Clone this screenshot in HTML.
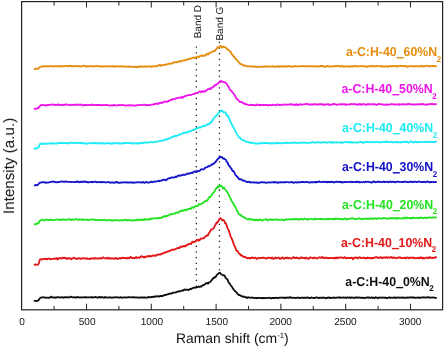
<!DOCTYPE html>
<html><head><meta charset="utf-8"><title>Raman spectra</title>
<style>html,body{margin:0;padding:0;background:#fff}body{width:444px;height:349px;overflow:hidden}</style></head>
<body>
<svg width="444" height="349" viewBox="0 0 444 349" style="display:block;-webkit-font-smoothing:antialiased" text-rendering="geometricPrecision">
<rect width="444" height="349" fill="#fff"/>
<defs><filter id="soft" x="-2%" y="-2%" width="104%" height="104%"><feGaussianBlur stdDeviation="0.32"/></filter></defs>
<g filter="url(#soft)">
<g stroke="#222" stroke-width="1.3" stroke-linecap="butt" fill="none">
<line x1="196.35" y1="46.45" x2="196.35" y2="288.5" stroke-dasharray="1.3 4.39"/>
<line x1="219.45" y1="41.65" x2="219.45" y2="272.5" stroke-dasharray="1.3 4.39"/>
</g>
<g fill="none" stroke-width="1.8" stroke-linejoin="round" stroke-linecap="round">
<path stroke="#E68C0C" d="M34.6 69.02 L35.1 69.04 L35.6 68.88 L36.1 68.71 L36.6 68.68 L37.1 68.63 L37.6 68.84 L38.1 68.99 L38.6 68.45 L39.1 67.66 L39.6 67.17 L40.1 66.99 L40.6 66.80 L41.1 66.58 L41.6 66.71 L42.1 66.76 L42.6 66.41 L43.1 66.33 L43.6 66.11 L44.1 66.08 L44.6 66.11 L45.1 66.32 L45.6 66.31 L46.1 66.54 L46.6 66.58 L47.1 66.32 L47.6 65.91 L48.1 66.19 L48.6 66.44 L49.1 66.37 L49.6 66.09 L50.1 66.14 L50.6 66.11 L51.1 66.23 L51.6 66.49 L52.1 66.27 L52.6 66.35 L53.1 66.48 L53.6 66.25 L54.1 66.25 L54.6 66.32 L55.1 66.22 L55.6 66.02 L56.1 66.28 L56.6 66.43 L57.1 66.06 L57.6 66.31 L58.1 66.25 L58.6 66.22 L59.1 66.63 L59.6 66.41 L60.1 65.97 L60.6 66.14 L61.1 66.27 L61.6 66.20 L62.1 66.27 L62.6 66.22 L63.1 66.37 L63.6 66.44 L64.1 66.09 L64.6 66.08 L65.1 66.03 L65.6 66.02 L66.1 65.81 L66.6 65.88 L67.1 66.08 L67.6 66.36 L68.1 66.32 L68.6 65.84 L69.1 65.88 L69.6 66.04 L70.1 65.68 L70.6 65.85 L71.1 66.14 L71.6 66.43 L72.1 66.33 L72.6 66.07 L73.1 66.00 L73.6 66.15 L74.1 66.41 L74.6 66.13 L75.1 66.06 L75.6 66.19 L76.1 66.13 L76.6 66.02 L77.1 65.90 L77.6 66.05 L78.1 66.15 L78.6 66.44 L79.1 66.40 L79.6 66.27 L80.1 66.31 L80.6 66.25 L81.1 66.41 L81.6 66.33 L82.1 66.25 L82.6 66.01 L83.1 66.09 L83.6 65.75 L84.1 65.65 L84.6 65.97 L85.1 66.05 L85.6 66.39 L86.1 66.70 L86.6 66.20 L87.1 66.09 L87.6 66.31 L88.1 66.39 L88.6 66.27 L89.1 66.29 L89.6 66.47 L90.1 66.39 L90.6 66.11 L91.1 66.22 L91.6 66.24 L92.1 66.11 L92.6 66.24 L93.1 66.23 L93.6 66.49 L94.1 66.45 L94.6 66.33 L95.1 66.21 L95.6 66.13 L96.1 65.82 L96.6 65.99 L97.1 66.20 L97.6 65.98 L98.1 66.26 L98.6 66.10 L99.1 66.34 L99.6 66.30 L100.1 66.49 L100.6 66.35 L101.1 66.15 L101.6 66.64 L102.1 66.78 L102.6 66.46 L103.1 66.31 L103.6 66.27 L104.1 66.25 L104.6 66.53 L105.1 66.36 L105.6 66.30 L106.1 66.19 L106.6 66.13 L107.1 66.18 L107.6 66.59 L108.1 66.55 L108.6 66.62 L109.1 66.45 L109.6 66.26 L110.1 66.27 L110.6 66.29 L111.1 66.37 L111.6 66.34 L112.1 66.25 L112.6 66.07 L113.1 66.30 L113.6 66.71 L114.1 66.36 L114.6 66.21 L115.1 66.56 L115.6 66.69 L116.1 66.24 L116.6 66.28 L117.1 66.20 L117.6 66.11 L118.1 66.52 L118.6 66.54 L119.1 66.45 L119.6 66.37 L120.1 66.51 L120.6 66.41 L121.1 66.36 L121.6 66.18 L122.1 66.27 L122.6 66.69 L123.1 66.54 L123.6 66.56 L124.1 66.52 L124.6 66.41 L125.1 66.45 L125.6 66.63 L126.1 66.53 L126.6 66.51 L127.1 66.65 L127.6 66.88 L128.1 66.84 L128.6 66.67 L129.1 66.40 L129.6 66.32 L130.1 66.78 L130.6 66.88 L131.1 66.70 L131.6 66.79 L132.1 66.91 L132.6 66.95 L133.1 66.89 L133.6 66.75 L134.1 66.90 L134.6 66.61 L135.1 66.85 L135.6 66.96 L136.1 67.10 L136.6 67.33 L137.1 67.14 L137.6 66.51 L138.1 66.40 L138.6 66.77 L139.1 66.63 L139.6 66.78 L140.1 66.86 L140.6 66.35 L141.1 66.24 L141.6 66.70 L142.1 66.80 L142.6 66.73 L143.1 66.70 L143.6 66.47 L144.1 66.35 L144.6 66.53 L145.1 66.39 L145.6 66.33 L146.1 66.69 L146.6 66.74 L147.1 66.68 L147.6 66.42 L148.1 66.35 L148.6 66.29 L149.1 66.35 L149.6 66.50 L150.1 66.43 L150.6 66.58 L151.1 66.76 L151.6 66.85 L152.1 66.38 L152.6 66.53 L153.1 66.46 L153.6 66.28 L154.1 66.02 L154.6 66.18 L155.1 66.41 L155.6 66.28 L156.1 66.18 L156.6 66.16 L157.1 66.30 L157.6 65.92 L158.1 65.39 L158.6 65.40 L159.1 65.05 L159.6 64.79 L160.1 65.35 L160.6 65.78 L161.1 65.45 L161.6 65.01 L162.1 65.03 L162.6 65.35 L163.1 65.18 L163.6 64.98 L164.1 64.85 L164.6 64.83 L165.1 64.90 L165.6 64.78 L166.1 64.48 L166.6 64.19 L167.1 64.27 L167.6 64.15 L168.1 64.19 L168.6 63.75 L169.1 63.74 L169.6 63.65 L170.1 63.48 L170.6 63.97 L171.1 63.89 L171.6 63.38 L172.1 63.38 L172.6 63.01 L173.1 62.35 L173.6 62.67 L174.1 62.71 L174.6 62.50 L175.1 62.16 L175.6 62.15 L176.1 62.23 L176.6 62.39 L177.1 62.13 L177.6 61.98 L178.1 62.04 L178.6 61.52 L179.1 61.13 L179.6 60.94 L180.1 61.54 L180.6 61.55 L181.1 61.35 L181.6 61.11 L182.1 60.83 L182.6 60.64 L183.1 60.41 L183.6 60.28 L184.1 60.37 L184.6 60.59 L185.1 60.29 L185.6 59.86 L186.1 59.53 L186.6 59.55 L187.1 59.96 L187.6 59.69 L188.1 59.31 L188.6 58.95 L189.1 58.67 L189.6 58.86 L190.1 58.99 L190.6 58.61 L191.1 58.41 L191.6 58.33 L192.1 58.14 L192.6 57.67 L193.1 57.72 L193.6 57.71 L194.1 57.88 L194.6 57.56 L195.1 57.77 L195.6 57.89 L196.1 57.28 L196.6 56.96 L197.1 57.03 L197.6 56.83 L198.1 56.54 L198.6 56.93 L199.1 57.21 L199.6 56.55 L200.1 56.12 L200.6 55.88 L201.1 55.93 L201.6 55.46 L202.1 55.46 L202.6 55.87 L203.1 55.50 L203.6 55.82 L204.1 55.89 L204.6 55.41 L205.1 55.37 L205.6 55.47 L206.1 54.71 L206.6 54.09 L207.1 53.77 L207.6 54.13 L208.1 54.52 L208.6 54.08 L209.1 53.15 L209.6 52.76 L210.1 52.72 L210.6 52.72 L211.1 52.41 L211.6 52.23 L212.1 51.95 L212.6 51.49 L213.1 51.26 L213.6 51.06 L214.1 50.77 L214.6 50.84 L215.1 50.94 L215.6 50.20 L216.1 49.23 L216.6 48.36 L217.1 48.24 L217.6 47.27 L218.1 47.10 L218.6 47.72 L219.1 47.55 L219.6 46.72 L220.1 45.97 L220.6 46.15 L221.1 46.36 L221.6 47.11 L222.1 47.74 L222.6 47.08 L223.1 46.48 L223.6 46.49 L224.1 47.05 L224.6 47.22 L225.1 47.19 L225.6 47.62 L226.1 47.82 L226.6 48.77 L227.1 49.34 L227.6 49.51 L228.1 49.48 L228.6 50.08 L229.1 50.49 L229.6 50.92 L230.1 51.44 L230.6 51.76 L231.1 52.54 L231.6 53.87 L232.1 54.53 L232.6 55.31 L233.1 55.98 L233.6 55.93 L234.1 56.64 L234.6 57.61 L235.1 58.24 L235.6 58.73 L236.1 59.55 L236.6 59.90 L237.1 60.03 L237.6 60.71 L238.1 61.72 L238.6 62.11 L239.1 62.25 L239.6 63.27 L240.1 63.83 L240.6 64.17 L241.1 64.14 L241.6 64.21 L242.1 64.54 L242.6 65.34 L243.1 65.34 L243.6 65.57 L244.1 65.45 L244.6 65.50 L245.1 65.42 L245.6 65.81 L246.1 66.18 L246.6 66.07 L247.1 66.45 L247.6 66.43 L248.1 66.17 L248.6 66.24 L249.1 66.35 L249.6 66.45 L250.1 66.39 L250.6 66.36 L251.1 66.44 L251.6 66.33 L252.1 66.34 L252.6 66.68 L253.1 66.82 L253.6 66.49 L254.1 66.62 L254.6 66.57 L255.1 66.60 L255.6 66.88 L256.1 66.86 L256.6 67.03 L257.1 66.77 L257.6 66.81 L258.1 66.72 L258.6 66.66 L259.1 66.86 L259.6 66.85 L260.1 66.91 L260.6 66.74 L261.1 66.54 L261.6 66.69 L262.1 66.85 L262.6 66.92 L263.1 66.65 L263.6 66.57 L264.1 66.44 L264.6 66.70 L265.1 66.44 L265.6 66.28 L266.1 66.69 L266.6 66.87 L267.1 66.41 L267.6 66.34 L268.1 66.41 L268.6 66.46 L269.1 66.67 L269.6 66.52 L270.1 66.54 L270.6 66.73 L271.1 66.61 L271.6 66.66 L272.1 66.42 L272.6 66.22 L273.1 66.33 L273.6 66.92 L274.1 66.75 L274.6 66.69 L275.1 66.68 L275.6 66.68 L276.1 66.80 L276.6 66.97 L277.1 66.43 L277.6 66.14 L278.1 66.19 L278.6 66.30 L279.1 66.73 L279.6 66.76 L280.1 66.34 L280.6 66.19 L281.1 66.50 L281.6 66.64 L282.1 66.09 L282.6 66.39 L283.1 66.43 L283.6 66.61 L284.1 66.36 L284.6 66.28 L285.1 66.11 L285.6 66.30 L286.1 66.80 L286.6 66.76 L287.1 66.41 L287.6 66.14 L288.1 65.99 L288.6 66.26 L289.1 66.44 L289.6 66.45 L290.1 66.36 L290.6 66.21 L291.1 66.36 L291.6 66.53 L292.1 66.86 L292.6 66.93 L293.1 66.49 L293.6 66.26 L294.1 66.32 L294.6 66.24 L295.1 66.22 L295.6 66.28 L296.1 66.23 L296.6 66.46 L297.1 66.45 L297.6 66.44 L298.1 66.33 L298.6 66.17 L299.1 66.13 L299.6 66.24 L300.1 66.28 L300.6 66.41 L301.1 66.31 L301.6 66.11 L302.1 66.21 L302.6 66.06 L303.1 66.14 L303.6 66.13 L304.1 65.93 L304.6 66.27 L305.1 66.41 L305.6 66.33 L306.1 66.25 L306.6 66.20 L307.1 66.12 L307.6 66.21 L308.1 66.25 L308.6 66.27 L309.1 66.14 L309.6 66.35 L310.1 66.41 L310.6 66.32 L311.1 66.30 L311.6 66.34 L312.1 66.08 L312.6 66.36 L313.1 66.47 L313.6 66.47 L314.1 66.42 L314.6 66.23 L315.1 66.30 L315.6 66.51 L316.1 66.51 L316.6 66.32 L317.1 66.08 L317.6 66.44 L318.1 66.72 L318.6 66.67 L319.1 66.36 L319.6 66.10 L320.1 66.43 L320.6 66.20 L321.1 65.81 L321.6 66.13 L322.1 65.95 L322.6 65.91 L323.1 66.20 L323.6 66.54 L324.1 66.37 L324.6 66.49 L325.1 66.85 L325.6 66.80 L326.1 66.41 L326.6 66.18 L327.1 65.99 L327.6 66.12 L328.1 66.40 L328.6 66.45 L329.1 66.45 L329.6 66.49 L330.1 66.22 L330.6 66.31 L331.1 66.52 L331.6 66.57 L332.1 66.62 L332.6 66.46 L333.1 66.30 L333.6 66.30 L334.1 66.00 L334.6 65.93 L335.1 66.31 L335.6 66.36 L336.1 66.25 L336.6 65.94 L337.1 66.06 L337.6 66.09 L338.1 65.91 L338.6 65.73 L339.1 66.13 L339.6 66.50 L340.1 66.40 L340.6 66.20 L341.1 66.31 L341.6 66.26 L342.1 65.75 L342.6 66.11 L343.1 66.45 L343.6 66.60 L344.1 66.79 L344.6 66.68 L345.1 66.46 L345.6 66.43 L346.1 66.44 L346.6 66.22 L347.1 66.30 L347.6 66.62 L348.1 66.76 L348.6 66.39 L349.1 66.28 L349.6 66.42 L350.1 66.58 L350.6 66.48 L351.1 66.52 L351.6 66.16 L352.1 66.15 L352.6 66.28 L353.1 66.51 L353.6 66.45 L354.1 65.96 L354.6 65.99 L355.1 66.23 L355.6 66.04 L356.1 65.97 L356.6 66.42 L357.1 66.49 L357.6 66.38 L358.1 66.27 L358.6 66.44 L359.1 66.37 L359.6 66.42 L360.1 66.08 L360.6 66.03 L361.1 66.19 L361.6 66.17 L362.1 66.37 L362.6 66.30 L363.1 66.08 L363.6 66.18 L364.1 66.25 L364.6 66.38 L365.1 66.15 L365.6 66.20 L366.1 66.65 L366.6 66.97 L367.1 66.85 L367.6 66.43 L368.1 66.41 L368.6 66.59 L369.1 66.26 L369.6 66.04 L370.1 66.24 L370.6 66.29 L371.1 65.98 L371.6 65.73 L372.1 65.86 L372.6 66.23 L373.1 66.12 L373.6 66.17 L374.1 66.32 L374.6 66.37 L375.1 66.25 L375.6 66.26 L376.1 66.06 L376.6 66.02 L377.1 66.07 L377.6 66.41 L378.1 66.26 L378.6 66.05 L379.1 66.09 L379.6 66.21 L380.1 66.26 L380.6 65.86 L381.1 65.87 L381.6 66.26 L382.1 66.82 L382.6 66.61 L383.1 66.33 L383.6 66.52 L384.1 66.71 L384.6 66.30 L385.1 66.22 L385.6 66.50 L386.1 66.47 L386.6 66.37 L387.1 66.30 L387.6 66.73 L388.1 66.78 L388.6 66.52 L389.1 66.27 L389.6 65.88 L390.1 66.20 L390.6 66.26 L391.1 66.35 L391.6 66.38 L392.1 66.07 L392.6 65.86 L393.1 66.12 L393.6 66.06 L394.1 66.05 L394.6 66.04 L395.1 65.93 L395.6 65.78 L396.1 66.33 L396.6 66.44 L397.1 66.62 L397.6 66.73 L398.1 66.23 L398.6 65.76 L399.1 65.80 L399.6 65.85 L400.1 66.02 L400.6 66.05 L401.1 65.81 L401.6 66.03 L402.1 65.93 L402.6 66.16 L403.1 66.19 L403.6 66.13 L404.1 66.13 L404.6 66.04 L405.1 65.92 L405.6 65.80 L406.1 66.22 L406.6 66.75 L407.1 66.87 L407.6 66.69 L408.1 66.41 L408.6 66.22 L409.1 66.47 L409.6 66.29 L410.1 66.17 L410.6 66.15 L411.1 66.17 L411.6 66.11 L412.1 66.08 L412.6 65.94 L413.1 66.21 L413.6 66.67 L414.1 66.34 L414.6 66.19 L415.1 66.35 L415.6 66.32 L416.1 66.00 L416.6 66.15 L417.1 66.41 L417.6 66.34 L418.1 66.36 L418.6 66.50 L419.1 66.17 L419.6 66.13 L420.1 66.20 L420.6 66.35 L421.1 65.84 L421.6 65.88 L422.1 66.09 L422.6 66.35 L423.1 66.48 L423.6 66.43 L424.1 66.02 L424.6 66.23 L425.1 66.14 L425.6 66.07 L426.1 66.20 L426.6 65.89 L427.1 65.66 L427.6 65.86 L428.1 65.80 L428.6 65.98 L429.1 66.26 L429.6 66.41 L430.1 66.55 L430.6 66.16 L431.1 65.80 L431.6 65.86 L432.1 65.86 L432.6 65.90 L433.1 66.16 L433.6 65.95 L434.1 65.78 L434.6 66.20 L435.1 66.25 L435.6 66.28 L436.1 66.25"/>
<path stroke="#EC14EA" d="M34.6 108.74 L35.1 108.74 L35.6 108.87 L36.1 108.75 L36.6 108.64 L37.1 108.44 L37.6 108.06 L38.1 108.10 L38.6 108.03 L39.1 107.26 L39.6 106.17 L40.1 105.86 L40.6 105.52 L41.1 105.04 L41.6 104.90 L42.1 105.15 L42.6 105.22 L43.1 105.14 L43.6 105.19 L44.1 105.16 L44.6 105.26 L45.1 105.11 L45.6 105.22 L46.1 105.59 L46.6 105.73 L47.1 105.10 L47.6 104.91 L48.1 104.97 L48.6 105.14 L49.1 104.87 L49.6 104.89 L50.1 104.95 L50.6 104.76 L51.1 104.72 L51.6 104.69 L52.1 104.40 L52.6 104.49 L53.1 104.78 L53.6 104.94 L54.1 104.78 L54.6 104.49 L55.1 104.74 L55.6 105.07 L56.1 105.05 L56.6 104.82 L57.1 104.70 L57.6 104.87 L58.1 104.66 L58.6 104.46 L59.1 104.65 L59.6 105.07 L60.1 105.02 L60.6 105.01 L61.1 104.81 L61.6 104.88 L62.1 104.68 L62.6 104.84 L63.1 105.32 L63.6 105.04 L64.1 104.66 L64.6 104.69 L65.1 104.86 L65.6 104.96 L66.1 104.56 L66.6 104.27 L67.1 104.52 L67.6 104.69 L68.1 104.82 L68.6 105.02 L69.1 104.92 L69.6 104.82 L70.1 104.59 L70.6 104.96 L71.1 105.28 L71.6 105.05 L72.1 104.83 L72.6 104.90 L73.1 105.05 L73.6 104.64 L74.1 104.67 L74.6 104.88 L75.1 104.90 L75.6 104.72 L76.1 104.76 L76.6 104.72 L77.1 104.75 L77.6 104.66 L78.1 104.51 L78.6 104.75 L79.1 104.89 L79.6 104.62 L80.1 104.71 L80.6 104.84 L81.1 104.63 L81.6 104.69 L82.1 104.68 L82.6 105.15 L83.1 105.55 L83.6 105.42 L84.1 104.99 L84.6 104.99 L85.1 104.93 L85.6 104.99 L86.1 105.11 L86.6 104.77 L87.1 105.00 L87.6 105.04 L88.1 105.19 L88.6 104.98 L89.1 104.78 L89.6 104.96 L90.1 105.08 L90.6 105.00 L91.1 104.98 L91.6 104.68 L92.1 104.49 L92.6 105.02 L93.1 105.16 L93.6 105.02 L94.1 105.04 L94.6 105.14 L95.1 104.88 L95.6 104.76 L96.1 104.96 L96.6 105.12 L97.1 104.85 L97.6 105.10 L98.1 104.86 L98.6 104.80 L99.1 105.19 L99.6 104.99 L100.1 104.70 L100.6 104.92 L101.1 105.29 L101.6 105.33 L102.1 105.07 L102.6 105.16 L103.1 105.19 L103.6 105.00 L104.1 105.10 L104.6 105.06 L105.1 104.93 L105.6 104.95 L106.1 105.08 L106.6 105.07 L107.1 104.96 L107.6 105.06 L108.1 105.35 L108.6 105.32 L109.1 105.43 L109.6 105.51 L110.1 105.53 L110.6 105.63 L111.1 105.20 L111.6 105.26 L112.1 105.30 L112.6 105.68 L113.1 105.55 L113.6 104.82 L114.1 104.89 L114.6 105.33 L115.1 105.48 L115.6 105.42 L116.1 105.29 L116.6 105.36 L117.1 105.40 L117.6 105.34 L118.1 105.29 L118.6 104.87 L119.1 105.15 L119.6 105.14 L120.1 105.37 L120.6 105.22 L121.1 105.08 L121.6 105.22 L122.1 105.04 L122.6 104.90 L123.1 104.87 L123.6 105.20 L124.1 105.46 L124.6 105.53 L125.1 105.41 L125.6 105.51 L126.1 105.37 L126.6 105.32 L127.1 105.49 L127.6 105.54 L128.1 105.28 L128.6 105.21 L129.1 105.25 L129.6 105.24 L130.1 105.19 L130.6 105.43 L131.1 105.32 L131.6 105.31 L132.1 105.18 L132.6 105.34 L133.1 105.38 L133.6 105.38 L134.1 105.72 L134.6 105.64 L135.1 105.77 L135.6 105.57 L136.1 105.18 L136.6 105.18 L137.1 105.35 L137.6 105.32 L138.1 105.26 L138.6 105.08 L139.1 104.83 L139.6 104.92 L140.1 104.78 L140.6 105.12 L141.1 105.06 L141.6 105.02 L142.1 105.15 L142.6 105.17 L143.1 104.81 L143.6 104.66 L144.1 104.71 L144.6 104.62 L145.1 104.96 L145.6 105.39 L146.1 105.10 L146.6 105.11 L147.1 104.89 L147.6 105.03 L148.1 104.99 L148.6 105.00 L149.1 105.19 L149.6 105.33 L150.1 105.01 L150.6 104.74 L151.1 104.55 L151.6 104.67 L152.1 104.61 L152.6 104.64 L153.1 104.58 L153.6 104.55 L154.1 103.90 L154.6 104.00 L155.1 104.20 L155.6 103.89 L156.1 103.64 L156.6 103.55 L157.1 103.35 L157.6 103.68 L158.1 104.12 L158.6 103.73 L159.1 103.04 L159.6 102.86 L160.1 102.99 L160.6 103.11 L161.1 102.71 L161.6 102.63 L162.1 102.90 L162.6 102.81 L163.1 102.35 L163.6 101.93 L164.1 101.71 L164.6 101.62 L165.1 101.42 L165.6 101.76 L166.1 101.62 L166.6 101.74 L167.1 101.96 L167.6 101.56 L168.1 100.95 L168.6 101.13 L169.1 101.05 L169.6 100.42 L170.1 100.12 L170.6 100.03 L171.1 99.82 L171.6 99.98 L172.1 99.20 L172.6 99.11 L173.1 99.28 L173.6 99.24 L174.1 99.20 L174.6 99.06 L175.1 98.91 L175.6 98.78 L176.1 98.07 L176.6 98.14 L177.1 98.08 L177.6 98.11 L178.1 97.97 L178.6 97.56 L179.1 97.53 L179.6 97.78 L180.1 97.56 L180.6 97.36 L181.1 97.92 L181.6 97.77 L182.1 96.78 L182.6 97.00 L183.1 97.50 L183.6 97.05 L184.1 96.56 L184.6 96.23 L185.1 96.00 L185.6 95.91 L186.1 95.84 L186.6 95.95 L187.1 95.61 L187.6 95.29 L188.1 95.05 L188.6 95.11 L189.1 94.92 L189.6 95.04 L190.1 95.28 L190.6 95.08 L191.1 94.92 L191.6 94.73 L192.1 94.47 L192.6 94.24 L193.1 94.14 L193.6 94.12 L194.1 93.78 L194.6 94.06 L195.1 93.69 L195.6 93.19 L196.1 93.03 L196.6 92.94 L197.1 92.94 L197.6 92.81 L198.1 92.96 L198.6 92.24 L199.1 91.58 L199.6 91.63 L200.1 91.45 L200.6 91.91 L201.1 92.29 L201.6 91.91 L202.1 91.13 L202.6 91.22 L203.1 91.80 L203.6 91.41 L204.1 91.10 L204.6 91.40 L205.1 91.69 L205.6 91.16 L206.1 90.49 L206.6 90.28 L207.1 90.06 L207.6 89.43 L208.1 89.06 L208.6 89.07 L209.1 88.74 L209.6 88.72 L210.1 88.90 L210.6 89.08 L211.1 88.03 L211.6 87.63 L212.1 87.49 L212.6 87.49 L213.1 87.30 L213.6 86.48 L214.1 85.76 L214.6 85.21 L215.1 85.26 L215.6 85.50 L216.1 85.00 L216.6 84.21 L217.1 83.96 L217.6 83.84 L218.1 83.52 L218.6 82.80 L219.1 82.21 L219.6 81.39 L220.1 81.56 L220.6 82.06 L221.1 81.01 L221.6 81.29 L222.1 81.74 L222.6 81.61 L223.1 81.61 L223.6 82.05 L224.1 82.40 L224.6 82.39 L225.1 82.18 L225.6 82.83 L226.1 83.14 L226.6 83.68 L227.1 84.62 L227.6 85.55 L228.1 86.24 L228.6 86.71 L229.1 87.88 L229.6 88.94 L230.1 89.75 L230.6 90.38 L231.1 90.55 L231.6 91.16 L232.1 91.94 L232.6 92.24 L233.1 93.16 L233.6 93.85 L234.1 94.44 L234.6 94.87 L235.1 95.81 L235.6 96.93 L236.1 97.96 L236.6 98.64 L237.1 98.98 L237.6 99.40 L238.1 99.88 L238.6 100.59 L239.1 101.05 L239.6 101.68 L240.1 102.20 L240.6 102.01 L241.1 101.82 L241.6 102.04 L242.1 102.21 L242.6 102.63 L243.1 103.35 L243.6 103.37 L244.1 103.25 L244.6 103.83 L245.1 104.18 L245.6 104.00 L246.1 103.98 L246.6 104.21 L247.1 104.51 L247.6 104.78 L248.1 105.01 L248.6 105.13 L249.1 105.19 L249.6 105.22 L250.1 104.94 L250.6 104.54 L251.1 104.74 L251.6 104.90 L252.1 104.90 L252.6 105.05 L253.1 104.84 L253.6 104.82 L254.1 105.24 L254.6 105.23 L255.1 105.13 L255.6 105.27 L256.1 105.31 L256.6 104.97 L257.1 104.44 L257.6 104.64 L258.1 104.78 L258.6 104.77 L259.1 105.06 L259.6 105.23 L260.1 104.90 L260.6 104.86 L261.1 105.32 L261.6 104.95 L262.1 104.71 L262.6 104.98 L263.1 105.04 L263.6 104.91 L264.1 105.06 L264.6 104.85 L265.1 104.74 L265.6 104.99 L266.1 105.09 L266.6 104.89 L267.1 104.96 L267.6 105.15 L268.1 105.49 L268.6 105.08 L269.1 105.16 L269.6 104.99 L270.1 104.93 L270.6 105.11 L271.1 105.23 L271.6 105.25 L272.1 105.00 L272.6 104.73 L273.1 104.74 L273.6 104.97 L274.1 105.11 L274.6 105.21 L275.1 105.10 L275.6 105.19 L276.1 105.23 L276.6 104.84 L277.1 104.40 L277.6 104.32 L278.1 104.50 L278.6 104.95 L279.1 104.78 L279.6 105.00 L280.1 105.09 L280.6 105.22 L281.1 105.06 L281.6 104.76 L282.1 104.67 L282.6 104.72 L283.1 104.70 L283.6 104.58 L284.1 104.75 L284.6 104.89 L285.1 104.43 L285.6 104.52 L286.1 104.48 L286.6 104.67 L287.1 104.82 L287.6 104.73 L288.1 104.66 L288.6 104.40 L289.1 104.68 L289.6 104.59 L290.1 104.69 L290.6 104.48 L291.1 103.97 L291.6 104.23 L292.1 104.67 L292.6 104.93 L293.1 104.74 L293.6 104.52 L294.1 104.36 L294.6 104.87 L295.1 105.03 L295.6 104.65 L296.1 104.36 L296.6 104.22 L297.1 104.78 L297.6 105.21 L298.1 104.95 L298.6 104.87 L299.1 104.64 L299.6 104.42 L300.1 104.63 L300.6 104.31 L301.1 104.38 L301.6 104.60 L302.1 104.73 L302.6 104.67 L303.1 104.55 L303.6 104.26 L304.1 104.16 L304.6 104.36 L305.1 104.24 L305.6 104.06 L306.1 104.08 L306.6 104.15 L307.1 103.95 L307.6 103.94 L308.1 104.04 L308.6 104.43 L309.1 104.72 L309.6 104.83 L310.1 104.24 L310.6 104.28 L311.1 104.60 L311.6 104.46 L312.1 104.50 L312.6 104.78 L313.1 104.43 L313.6 104.09 L314.1 104.12 L314.6 104.46 L315.1 104.45 L315.6 104.11 L316.1 104.18 L316.6 104.54 L317.1 104.57 L317.6 104.40 L318.1 104.58 L318.6 104.49 L319.1 104.08 L319.6 104.28 L320.1 104.47 L320.6 104.19 L321.1 103.92 L321.6 104.28 L322.1 104.69 L322.6 104.68 L323.1 104.27 L323.6 104.76 L324.1 104.45 L324.6 104.65 L325.1 104.84 L325.6 104.74 L326.1 104.45 L326.6 104.23 L327.1 104.43 L327.6 104.13 L328.1 104.03 L328.6 104.90 L329.1 104.91 L329.6 104.80 L330.1 104.46 L330.6 104.78 L331.1 104.98 L331.6 104.87 L332.1 104.44 L332.6 104.14 L333.1 104.13 L333.6 103.80 L334.1 103.89 L334.6 104.24 L335.1 104.19 L335.6 104.29 L336.1 104.51 L336.6 104.91 L337.1 104.82 L337.6 104.57 L338.1 104.60 L338.6 104.30 L339.1 104.34 L339.6 104.48 L340.1 104.17 L340.6 104.15 L341.1 104.10 L341.6 104.44 L342.1 104.70 L342.6 104.36 L343.1 104.32 L343.6 104.13 L344.1 103.99 L344.6 104.14 L345.1 104.78 L345.6 105.04 L346.1 104.61 L346.6 104.32 L347.1 104.46 L347.6 104.42 L348.1 104.55 L348.6 104.52 L349.1 104.51 L349.6 104.49 L350.1 104.27 L350.6 104.12 L351.1 103.94 L351.6 104.05 L352.1 104.02 L352.6 104.17 L353.1 104.16 L353.6 104.36 L354.1 104.37 L354.6 104.04 L355.1 104.02 L355.6 104.16 L356.1 104.58 L356.6 104.85 L357.1 104.65 L357.6 104.46 L358.1 104.55 L358.6 104.25 L359.1 104.53 L359.6 104.13 L360.1 103.90 L360.6 104.85 L361.1 104.82 L361.6 104.26 L362.1 104.30 L362.6 104.33 L363.1 104.26 L363.6 103.99 L364.1 104.13 L364.6 104.42 L365.1 104.52 L365.6 104.63 L366.1 104.62 L366.6 104.81 L367.1 104.38 L367.6 104.22 L368.1 103.86 L368.6 104.03 L369.1 104.48 L369.6 104.28 L370.1 104.39 L370.6 104.29 L371.1 104.09 L371.6 104.16 L372.1 104.17 L372.6 104.25 L373.1 104.52 L373.6 104.49 L374.1 104.20 L374.6 104.12 L375.1 104.33 L375.6 104.41 L376.1 104.74 L376.6 105.05 L377.1 104.71 L377.6 104.38 L378.1 104.23 L378.6 104.07 L379.1 104.00 L379.6 104.02 L380.1 104.14 L380.6 104.26 L381.1 104.43 L381.6 104.28 L382.1 104.17 L382.6 104.17 L383.1 104.63 L383.6 104.69 L384.1 104.81 L384.6 104.74 L385.1 104.69 L385.6 104.43 L386.1 104.66 L386.6 104.88 L387.1 104.34 L387.6 104.61 L388.1 104.81 L388.6 104.59 L389.1 104.61 L389.6 104.61 L390.1 104.30 L390.6 104.30 L391.1 104.11 L391.6 104.06 L392.1 104.12 L392.6 104.25 L393.1 104.37 L393.6 104.33 L394.1 104.18 L394.6 104.74 L395.1 104.77 L395.6 104.54 L396.1 104.28 L396.6 104.31 L397.1 104.46 L397.6 104.32 L398.1 104.03 L398.6 104.57 L399.1 104.88 L399.6 104.19 L400.1 104.43 L400.6 104.46 L401.1 104.42 L401.6 104.52 L402.1 104.16 L402.6 104.37 L403.1 104.63 L403.6 104.34 L404.1 104.21 L404.6 104.27 L405.1 104.33 L405.6 104.55 L406.1 104.29 L406.6 104.34 L407.1 104.14 L407.6 104.36 L408.1 104.14 L408.6 103.72 L409.1 104.03 L409.6 104.04 L410.1 104.24 L410.6 104.53 L411.1 104.09 L411.6 104.09 L412.1 104.56 L412.6 104.55 L413.1 104.68 L413.6 104.43 L414.1 104.13 L414.6 104.32 L415.1 104.64 L415.6 104.61 L416.1 104.38 L416.6 104.31 L417.1 104.24 L417.6 104.31 L418.1 104.69 L418.6 104.36 L419.1 104.02 L419.6 104.17 L420.1 104.48 L420.6 104.49 L421.1 104.27 L421.6 104.14 L422.1 104.13 L422.6 103.83 L423.1 103.95 L423.6 104.35 L424.1 104.28 L424.6 104.44 L425.1 104.65 L425.6 104.54 L426.1 104.51 L426.6 104.83 L427.1 104.58 L427.6 104.33 L428.1 104.47 L428.6 104.38 L429.1 104.15 L429.6 104.24 L430.1 104.12 L430.6 103.84 L431.1 104.09 L431.6 104.19 L432.1 104.06 L432.6 103.87 L433.1 104.10 L433.6 104.27 L434.1 104.24 L434.6 104.10 L435.1 104.27 L435.6 104.06 L436.1 104.16"/>
<path stroke="#1CEAF4" d="M34.6 148.74 L35.1 148.39 L35.6 148.35 L36.1 148.53 L36.6 148.21 L37.1 148.02 L37.6 148.03 L38.1 147.82 L38.6 146.96 L39.1 146.05 L39.6 144.86 L40.1 143.85 L40.6 143.64 L41.1 143.69 L41.6 143.80 L42.1 143.66 L42.6 143.79 L43.1 143.82 L43.6 143.63 L44.1 143.83 L44.6 144.11 L45.1 143.84 L45.6 143.55 L46.1 143.53 L46.6 143.45 L47.1 143.67 L47.6 143.74 L48.1 143.44 L48.6 143.53 L49.1 143.73 L49.6 143.50 L50.1 143.43 L50.6 143.21 L51.1 143.17 L51.6 143.43 L52.1 143.83 L52.6 143.44 L53.1 143.20 L53.6 143.20 L54.1 143.33 L54.6 143.48 L55.1 143.56 L55.6 143.78 L56.1 143.59 L56.6 143.63 L57.1 143.47 L57.6 143.30 L58.1 142.96 L58.6 143.09 L59.1 143.17 L59.6 142.99 L60.1 142.77 L60.6 143.19 L61.1 143.12 L61.6 143.02 L62.1 143.05 L62.6 143.11 L63.1 143.12 L63.6 142.82 L64.1 142.85 L64.6 143.12 L65.1 143.14 L65.6 143.00 L66.1 142.89 L66.6 142.88 L67.1 143.11 L67.6 143.27 L68.1 143.07 L68.6 143.41 L69.1 143.36 L69.6 143.12 L70.1 143.14 L70.6 142.72 L71.1 142.54 L71.6 142.68 L72.1 142.91 L72.6 142.99 L73.1 143.00 L73.6 142.96 L74.1 142.72 L74.6 142.99 L75.1 142.83 L75.6 142.88 L76.1 142.94 L76.6 142.79 L77.1 142.72 L77.6 142.86 L78.1 143.16 L78.6 143.36 L79.1 143.29 L79.6 142.98 L80.1 142.91 L80.6 143.00 L81.1 143.11 L81.6 142.92 L82.1 143.33 L82.6 143.18 L83.1 143.07 L83.6 143.35 L84.1 143.54 L84.6 143.49 L85.1 143.54 L85.6 143.47 L86.1 143.65 L86.6 143.64 L87.1 143.46 L87.6 143.61 L88.1 143.44 L88.6 143.26 L89.1 143.09 L89.6 143.23 L90.1 143.35 L90.6 143.12 L91.1 143.37 L91.6 143.44 L92.1 143.23 L92.6 142.84 L93.1 143.17 L93.6 143.38 L94.1 143.19 L94.6 143.09 L95.1 142.84 L95.6 143.23 L96.1 143.27 L96.6 143.31 L97.1 143.01 L97.6 143.30 L98.1 143.36 L98.6 143.39 L99.1 143.11 L99.6 143.26 L100.1 143.68 L100.6 143.23 L101.1 143.07 L101.6 143.12 L102.1 143.14 L102.6 143.61 L103.1 143.71 L103.6 143.15 L104.1 142.96 L104.6 143.51 L105.1 143.68 L105.6 143.64 L106.1 143.55 L106.6 143.18 L107.1 143.10 L107.6 142.89 L108.1 142.96 L108.6 143.36 L109.1 143.39 L109.6 143.75 L110.1 143.43 L110.6 143.22 L111.1 143.56 L111.6 143.78 L112.1 143.45 L112.6 143.10 L113.1 143.39 L113.6 143.59 L114.1 143.24 L114.6 143.17 L115.1 143.47 L115.6 143.32 L116.1 143.04 L116.6 143.08 L117.1 143.13 L117.6 143.32 L118.1 143.43 L118.6 143.61 L119.1 143.42 L119.6 143.04 L120.1 143.34 L120.6 143.56 L121.1 143.54 L121.6 143.52 L122.1 143.19 L122.6 143.12 L123.1 143.36 L123.6 142.98 L124.1 142.83 L124.6 143.31 L125.1 143.20 L125.6 143.08 L126.1 142.88 L126.6 142.83 L127.1 142.93 L127.6 143.17 L128.1 143.19 L128.6 142.88 L129.1 143.21 L129.6 143.02 L130.1 143.03 L130.6 143.36 L131.1 143.22 L131.6 143.09 L132.1 143.51 L132.6 143.24 L133.1 143.28 L133.6 143.42 L134.1 143.54 L134.6 143.32 L135.1 143.36 L135.6 143.21 L136.1 143.33 L136.6 143.07 L137.1 143.17 L137.6 143.55 L138.1 143.34 L138.6 143.31 L139.1 143.60 L139.6 143.25 L140.1 142.95 L140.6 143.03 L141.1 142.88 L141.6 143.22 L142.1 143.25 L142.6 142.84 L143.1 142.73 L143.6 142.87 L144.1 142.79 L144.6 142.65 L145.1 142.70 L145.6 142.33 L146.1 142.46 L146.6 142.56 L147.1 142.60 L147.6 142.58 L148.1 142.38 L148.6 142.56 L149.1 142.44 L149.6 142.18 L150.1 141.95 L150.6 141.99 L151.1 142.19 L151.6 142.02 L152.1 142.16 L152.6 142.39 L153.1 142.42 L153.6 142.33 L154.1 141.83 L154.6 141.61 L155.1 141.88 L155.6 141.86 L156.1 141.83 L156.6 141.65 L157.1 141.72 L157.6 141.64 L158.1 141.48 L158.6 141.33 L159.1 141.19 L159.6 141.05 L160.1 141.01 L160.6 140.97 L161.1 140.77 L161.6 140.93 L162.1 140.66 L162.6 140.58 L163.1 140.29 L163.6 140.22 L164.1 140.42 L164.6 139.84 L165.1 139.33 L165.6 139.26 L166.1 139.44 L166.6 139.73 L167.1 139.36 L167.6 139.05 L168.1 138.58 L168.6 138.60 L169.1 138.69 L169.6 138.61 L170.1 138.01 L170.6 137.91 L171.1 137.65 L171.6 137.19 L172.1 137.11 L172.6 136.77 L173.1 136.29 L173.6 136.65 L174.1 136.61 L174.6 136.09 L175.1 135.83 L175.6 136.19 L176.1 136.00 L176.6 135.95 L177.1 135.78 L177.6 135.25 L178.1 135.17 L178.6 134.86 L179.1 134.64 L179.6 134.49 L180.1 134.43 L180.6 134.48 L181.1 134.12 L181.6 133.77 L182.1 133.60 L182.6 133.47 L183.1 133.06 L183.6 132.92 L184.1 132.86 L184.6 132.63 L185.1 132.49 L185.6 132.46 L186.1 132.91 L186.6 132.71 L187.1 132.18 L187.6 131.99 L188.1 132.23 L188.6 131.70 L189.1 131.27 L189.6 131.17 L190.1 131.14 L190.6 131.14 L191.1 130.87 L191.6 130.88 L192.1 130.19 L192.6 130.02 L193.1 129.77 L193.6 130.05 L194.1 129.54 L194.6 129.32 L195.1 129.49 L195.6 129.27 L196.1 128.49 L196.6 128.20 L197.1 127.94 L197.6 128.10 L198.1 128.00 L198.6 127.70 L199.1 127.44 L199.6 127.31 L200.1 127.20 L200.6 127.50 L201.1 127.43 L201.6 126.49 L202.1 126.50 L202.6 126.52 L203.1 126.46 L203.6 126.01 L204.1 125.83 L204.6 125.63 L205.1 125.82 L205.6 125.58 L206.1 125.28 L206.6 125.13 L207.1 124.60 L207.6 124.09 L208.1 124.35 L208.6 124.16 L209.1 123.80 L209.6 123.79 L210.1 123.32 L210.6 122.13 L211.1 121.72 L211.6 122.00 L212.1 121.41 L212.6 120.00 L213.1 119.06 L213.6 118.63 L214.1 118.03 L214.6 117.29 L215.1 117.05 L215.6 116.20 L216.1 115.69 L216.6 115.63 L217.1 114.67 L217.6 114.10 L218.1 113.80 L218.6 113.17 L219.1 112.19 L219.6 111.56 L220.1 111.17 L220.6 111.63 L221.1 111.10 L221.6 110.34 L222.1 110.72 L222.6 111.29 L223.1 111.71 L223.6 112.47 L224.1 112.56 L224.6 112.20 L225.1 112.40 L225.6 112.64 L226.1 113.55 L226.6 114.63 L227.1 116.03 L227.6 115.98 L228.1 116.00 L228.6 117.41 L229.1 118.81 L229.6 119.56 L230.1 120.66 L230.6 121.96 L231.1 123.11 L231.6 123.86 L232.1 124.69 L232.6 125.98 L233.1 126.72 L233.6 127.50 L234.1 128.29 L234.6 129.51 L235.1 130.74 L235.6 131.32 L236.1 132.54 L236.6 133.68 L237.1 134.35 L237.6 135.10 L238.1 135.75 L238.6 136.91 L239.1 137.59 L239.6 137.73 L240.1 137.68 L240.6 138.22 L241.1 139.16 L241.6 139.72 L242.1 139.83 L242.6 140.10 L243.1 140.07 L243.6 140.32 L244.1 140.69 L244.6 140.90 L245.1 140.92 L245.6 141.57 L246.1 141.87 L246.6 141.53 L247.1 141.60 L247.6 142.04 L248.1 141.97 L248.6 141.88 L249.1 142.50 L249.6 142.63 L250.1 142.70 L250.6 143.14 L251.1 142.91 L251.6 142.70 L252.1 142.80 L252.6 142.69 L253.1 142.80 L253.6 143.05 L254.1 142.99 L254.6 143.14 L255.1 143.58 L255.6 143.59 L256.1 143.53 L256.6 143.48 L257.1 143.54 L257.6 143.65 L258.1 143.53 L258.6 143.63 L259.1 143.21 L259.6 143.08 L260.1 142.96 L260.6 143.16 L261.1 143.48 L261.6 143.59 L262.1 143.25 L262.6 143.21 L263.1 143.15 L263.6 143.01 L264.1 142.97 L264.6 143.07 L265.1 142.90 L265.6 143.16 L266.1 143.22 L266.6 143.03 L267.1 142.88 L267.6 143.00 L268.1 143.44 L268.6 143.18 L269.1 143.50 L269.6 143.42 L270.1 143.08 L270.6 142.99 L271.1 143.45 L271.6 143.56 L272.1 143.07 L272.6 143.10 L273.1 143.38 L273.6 143.44 L274.1 143.55 L274.6 143.19 L275.1 143.10 L275.6 143.03 L276.1 143.41 L276.6 142.92 L277.1 142.54 L277.6 142.87 L278.1 143.16 L278.6 143.43 L279.1 143.11 L279.6 143.05 L280.1 143.26 L280.6 143.39 L281.1 143.18 L281.6 143.25 L282.1 143.15 L282.6 142.95 L283.1 142.96 L283.6 142.90 L284.1 142.84 L284.6 143.03 L285.1 142.80 L285.6 143.14 L286.1 143.19 L286.6 142.89 L287.1 142.70 L287.6 142.81 L288.1 143.01 L288.6 143.07 L289.1 143.04 L289.6 143.04 L290.1 142.80 L290.6 142.72 L291.1 142.55 L291.6 142.87 L292.1 142.86 L292.6 142.80 L293.1 143.05 L293.6 142.81 L294.1 142.21 L294.6 142.46 L295.1 142.52 L295.6 143.05 L296.1 143.32 L296.6 142.81 L297.1 142.69 L297.6 142.70 L298.1 142.82 L298.6 142.97 L299.1 142.96 L299.6 142.70 L300.1 142.90 L300.6 142.63 L301.1 142.77 L301.6 143.01 L302.1 142.85 L302.6 142.48 L303.1 142.42 L303.6 142.52 L304.1 142.70 L304.6 142.81 L305.1 142.50 L305.6 142.71 L306.1 142.86 L306.6 142.84 L307.1 142.89 L307.6 143.03 L308.1 142.91 L308.6 142.89 L309.1 142.94 L309.6 142.91 L310.1 142.43 L310.6 142.73 L311.1 142.63 L311.6 142.46 L312.1 142.24 L312.6 142.10 L313.1 142.33 L313.6 142.45 L314.1 142.54 L314.6 142.40 L315.1 142.80 L315.6 142.72 L316.1 142.48 L316.6 142.34 L317.1 142.26 L317.6 142.22 L318.1 142.36 L318.6 142.50 L319.1 142.41 L319.6 142.20 L320.1 142.31 L320.6 142.33 L321.1 142.64 L321.6 142.99 L322.1 142.77 L322.6 142.38 L323.1 142.04 L323.6 141.97 L324.1 142.09 L324.6 142.48 L325.1 142.39 L325.6 142.41 L326.1 142.37 L326.6 142.56 L327.1 142.74 L327.6 142.41 L328.1 142.30 L328.6 142.34 L329.1 142.53 L329.6 142.23 L330.1 142.04 L330.6 141.98 L331.1 142.08 L331.6 142.64 L332.1 142.96 L332.6 142.48 L333.1 142.59 L333.6 142.48 L334.1 142.19 L334.6 142.27 L335.1 142.31 L335.6 142.39 L336.1 142.65 L336.6 142.17 L337.1 142.38 L337.6 142.46 L338.1 142.31 L338.6 142.45 L339.1 142.61 L339.6 142.52 L340.1 142.54 L340.6 142.42 L341.1 142.10 L341.6 142.72 L342.1 143.05 L342.6 142.82 L343.1 142.56 L343.6 142.12 L344.1 142.18 L344.6 142.13 L345.1 142.24 L345.6 142.46 L346.1 142.23 L346.6 142.12 L347.1 141.91 L347.6 142.17 L348.1 142.29 L348.6 142.13 L349.1 142.26 L349.6 142.59 L350.1 142.12 L350.6 141.94 L351.1 142.15 L351.6 142.66 L352.1 142.87 L352.6 142.48 L353.1 142.14 L353.6 142.23 L354.1 142.43 L354.6 142.28 L355.1 142.64 L355.6 142.70 L356.1 142.45 L356.6 142.48 L357.1 142.60 L357.6 142.59 L358.1 142.24 L358.6 142.42 L359.1 142.21 L359.6 142.07 L360.1 142.21 L360.6 142.14 L361.1 141.91 L361.6 141.76 L362.1 142.03 L362.6 142.63 L363.1 142.82 L363.6 142.60 L364.1 142.50 L364.6 142.20 L365.1 142.19 L365.6 142.20 L366.1 141.93 L366.6 141.93 L367.1 142.14 L367.6 142.07 L368.1 141.98 L368.6 142.19 L369.1 142.25 L369.6 142.40 L370.1 142.25 L370.6 142.14 L371.1 142.19 L371.6 142.11 L372.1 142.00 L372.6 142.10 L373.1 142.36 L373.6 142.47 L374.1 142.38 L374.6 141.87 L375.1 141.93 L375.6 142.06 L376.1 142.14 L376.6 142.04 L377.1 142.07 L377.6 142.30 L378.1 142.17 L378.6 142.01 L379.1 142.43 L379.6 142.42 L380.1 142.15 L380.6 142.23 L381.1 142.12 L381.6 142.32 L382.1 142.11 L382.6 141.92 L383.1 141.94 L383.6 141.95 L384.1 142.13 L384.6 142.18 L385.1 142.10 L385.6 141.74 L386.1 141.29 L386.6 141.73 L387.1 141.73 L387.6 142.11 L388.1 142.39 L388.6 142.22 L389.1 142.03 L389.6 142.03 L390.1 142.02 L390.6 141.93 L391.1 141.86 L391.6 141.94 L392.1 142.28 L392.6 142.24 L393.1 142.28 L393.6 142.11 L394.1 142.07 L394.6 142.09 L395.1 142.23 L395.6 142.31 L396.1 142.14 L396.6 141.89 L397.1 141.98 L397.6 142.36 L398.1 142.11 L398.6 142.09 L399.1 142.44 L399.6 142.45 L400.1 142.23 L400.6 142.18 L401.1 142.57 L401.6 142.36 L402.1 142.19 L402.6 141.95 L403.1 141.64 L403.6 141.69 L404.1 142.07 L404.6 142.15 L405.1 141.94 L405.6 141.67 L406.1 141.62 L406.6 141.76 L407.1 141.77 L407.6 142.21 L408.1 142.56 L408.6 142.80 L409.1 142.39 L409.6 141.91 L410.1 141.55 L410.6 141.17 L411.1 141.64 L411.6 142.02 L412.1 142.27 L412.6 142.27 L413.1 142.22 L413.6 142.16 L414.1 142.29 L414.6 142.31 L415.1 141.86 L415.6 141.74 L416.1 141.80 L416.6 142.37 L417.1 142.47 L417.6 142.19 L418.1 141.82 L418.6 141.95 L419.1 141.98 L419.6 142.00 L420.1 142.02 L420.6 142.08 L421.1 142.03 L421.6 142.19 L422.1 142.10 L422.6 141.95 L423.1 141.93 L423.6 141.96 L424.1 142.13 L424.6 142.03 L425.1 142.02 L425.6 141.83 L426.1 141.72 L426.6 142.02 L427.1 141.89 L427.6 142.11 L428.1 142.02 L428.6 141.60 L429.1 141.64 L429.6 141.76 L430.1 141.70 L430.6 141.74 L431.1 142.06 L431.6 142.03 L432.1 142.04 L432.6 141.96 L433.1 141.98 L433.6 141.86 L434.1 141.98 L434.6 142.13 L435.1 142.02 L435.6 141.82 L436.1 141.73"/>
<path stroke="#1212C8" d="M34.6 185.36 L35.1 185.34 L35.6 185.12 L36.1 184.96 L36.6 185.21 L37.1 185.37 L37.6 184.77 L38.1 184.52 L38.6 184.06 L39.1 183.12 L39.6 182.88 L40.1 182.61 L40.6 182.72 L41.1 182.44 L41.6 182.22 L42.1 182.30 L42.6 182.35 L43.1 182.24 L43.6 182.19 L44.1 182.01 L44.6 182.22 L45.1 182.59 L45.6 182.81 L46.1 182.58 L46.6 182.44 L47.1 182.58 L47.6 182.64 L48.1 182.71 L48.6 182.53 L49.1 182.24 L49.6 182.22 L50.1 182.22 L50.6 182.22 L51.1 182.12 L51.6 181.79 L52.1 181.52 L52.6 181.62 L53.1 181.57 L53.6 181.91 L54.1 181.91 L54.6 181.70 L55.1 182.09 L55.6 182.23 L56.1 182.17 L56.6 182.46 L57.1 182.38 L57.6 181.88 L58.1 182.09 L58.6 182.11 L59.1 182.09 L59.6 182.07 L60.1 181.75 L60.6 181.63 L61.1 181.59 L61.6 181.62 L62.1 181.67 L62.6 181.44 L63.1 181.54 L63.6 181.87 L64.1 181.87 L64.6 181.76 L65.1 181.37 L65.6 181.46 L66.1 181.63 L66.6 181.73 L67.1 181.74 L67.6 181.96 L68.1 181.86 L68.6 181.80 L69.1 181.86 L69.6 181.92 L70.1 181.83 L70.6 182.05 L71.1 182.00 L71.6 181.88 L72.1 181.87 L72.6 182.00 L73.1 182.14 L73.6 182.13 L74.1 182.04 L74.6 182.05 L75.1 182.01 L75.6 182.12 L76.1 181.78 L76.6 181.49 L77.1 182.00 L77.6 181.89 L78.1 181.60 L78.6 181.68 L79.1 181.82 L79.6 182.31 L80.1 182.03 L80.6 181.63 L81.1 181.87 L81.6 181.99 L82.1 182.22 L82.6 181.66 L83.1 181.36 L83.6 181.75 L84.1 181.83 L84.6 181.67 L85.1 181.48 L85.6 182.01 L86.1 182.21 L86.6 181.75 L87.1 182.04 L87.6 182.10 L88.1 182.48 L88.6 182.23 L89.1 182.06 L89.6 182.26 L90.1 182.15 L90.6 181.97 L91.1 182.09 L91.6 181.83 L92.1 181.75 L92.6 182.31 L93.1 182.06 L93.6 181.91 L94.1 181.97 L94.6 181.65 L95.1 181.62 L95.6 181.83 L96.1 181.93 L96.6 182.14 L97.1 182.30 L97.6 182.11 L98.1 182.22 L98.6 182.20 L99.1 181.95 L99.6 182.03 L100.1 182.03 L100.6 182.34 L101.1 182.33 L101.6 182.10 L102.1 181.89 L102.6 182.05 L103.1 182.08 L103.6 182.28 L104.1 182.17 L104.6 182.09 L105.1 182.41 L105.6 182.41 L106.1 182.24 L106.6 182.43 L107.1 182.25 L107.6 182.18 L108.1 182.22 L108.6 182.09 L109.1 182.13 L109.6 182.34 L110.1 182.73 L110.6 182.73 L111.1 182.49 L111.6 182.65 L112.1 182.47 L112.6 182.49 L113.1 182.59 L113.6 182.66 L114.1 182.93 L114.6 182.51 L115.1 182.23 L115.6 182.55 L116.1 182.38 L116.6 182.09 L117.1 181.81 L117.6 182.47 L118.1 182.73 L118.6 182.73 L119.1 182.82 L119.6 182.87 L120.1 182.62 L120.6 182.59 L121.1 182.33 L121.6 182.40 L122.1 182.69 L122.6 182.53 L123.1 182.24 L123.6 182.44 L124.1 182.41 L124.6 182.32 L125.1 182.49 L125.6 182.32 L126.1 182.04 L126.6 182.27 L127.1 182.69 L127.6 182.31 L128.1 182.48 L128.6 182.69 L129.1 182.59 L129.6 182.26 L130.1 182.35 L130.6 182.56 L131.1 182.64 L131.6 182.33 L132.1 182.27 L132.6 182.71 L133.1 182.83 L133.6 182.60 L134.1 182.41 L134.6 182.53 L135.1 182.59 L135.6 182.57 L136.1 182.27 L136.6 182.39 L137.1 182.35 L137.6 182.21 L138.1 182.41 L138.6 182.43 L139.1 182.37 L139.6 182.37 L140.1 182.13 L140.6 182.32 L141.1 182.51 L141.6 182.56 L142.1 182.54 L142.6 182.08 L143.1 181.96 L143.6 182.32 L144.1 182.61 L144.6 182.86 L145.1 182.54 L145.6 182.22 L146.1 182.34 L146.6 182.04 L147.1 182.06 L147.6 182.71 L148.1 182.51 L148.6 182.38 L149.1 182.43 L149.6 182.54 L150.1 182.32 L150.6 182.20 L151.1 181.70 L151.6 181.61 L152.1 182.14 L152.6 182.23 L153.1 181.94 L153.6 181.73 L154.1 181.57 L154.6 181.47 L155.1 181.76 L155.6 181.65 L156.1 181.46 L156.6 181.40 L157.1 181.42 L157.6 181.29 L158.1 181.08 L158.6 180.71 L159.1 180.99 L159.6 181.21 L160.1 180.67 L160.6 180.55 L161.1 180.73 L161.6 180.72 L162.1 180.39 L162.6 179.92 L163.1 180.01 L163.6 179.70 L164.1 179.65 L164.6 179.82 L165.1 179.70 L165.6 179.96 L166.1 180.29 L166.6 179.78 L167.1 179.32 L167.6 178.82 L168.1 178.58 L168.6 178.40 L169.1 178.31 L169.6 178.11 L170.1 178.06 L170.6 177.99 L171.1 177.66 L171.6 177.34 L172.1 177.33 L172.6 177.61 L173.1 177.59 L173.6 177.66 L174.1 177.49 L174.6 177.09 L175.1 176.91 L175.6 176.63 L176.1 177.18 L176.6 176.97 L177.1 176.30 L177.6 175.94 L178.1 175.93 L178.6 175.45 L179.1 175.55 L179.6 175.87 L180.1 175.66 L180.6 175.46 L181.1 175.50 L181.6 175.10 L182.1 175.09 L182.6 174.85 L183.1 174.69 L183.6 174.76 L184.1 174.64 L184.6 174.95 L185.1 174.66 L185.6 174.74 L186.1 174.17 L186.6 174.07 L187.1 173.60 L187.6 173.42 L188.1 173.75 L188.6 173.73 L189.1 173.34 L189.6 173.55 L190.1 173.18 L190.6 173.16 L191.1 173.21 L191.6 172.94 L192.1 172.47 L192.6 172.99 L193.1 172.78 L193.6 172.20 L194.1 171.72 L194.6 171.35 L195.1 171.42 L195.6 171.78 L196.1 171.47 L196.6 171.05 L197.1 171.20 L197.6 171.54 L198.1 171.00 L198.6 170.76 L199.1 171.07 L199.6 170.78 L200.1 170.33 L200.6 169.81 L201.1 169.31 L201.6 169.22 L202.1 169.31 L202.6 169.33 L203.1 169.37 L203.6 169.26 L204.1 168.97 L204.6 168.59 L205.1 167.86 L205.6 167.31 L206.1 167.44 L206.6 167.27 L207.1 167.12 L207.6 166.92 L208.1 166.40 L208.6 166.19 L209.1 166.29 L209.6 166.09 L210.1 165.66 L210.6 165.55 L211.1 164.98 L211.6 164.36 L212.1 164.47 L212.6 164.55 L213.1 163.67 L213.6 163.65 L214.1 163.56 L214.6 162.94 L215.1 162.05 L215.6 162.13 L216.1 161.20 L216.6 160.26 L217.1 159.75 L217.6 159.42 L218.1 158.72 L218.6 158.24 L219.1 158.07 L219.6 157.04 L220.1 156.63 L220.6 157.19 L221.1 157.47 L221.6 157.43 L222.1 157.10 L222.6 157.89 L223.1 158.45 L223.6 158.88 L224.1 158.48 L224.6 159.05 L225.1 159.35 L225.6 159.35 L226.1 160.30 L226.6 161.56 L227.1 161.89 L227.6 162.58 L228.1 163.97 L228.6 165.05 L229.1 165.69 L229.6 165.99 L230.1 166.93 L230.6 167.90 L231.1 168.16 L231.6 168.84 L232.1 170.14 L232.6 171.00 L233.1 170.86 L233.6 171.04 L234.1 172.03 L234.6 173.10 L235.1 174.17 L235.6 175.09 L236.1 175.57 L236.6 176.07 L237.1 176.74 L237.6 177.17 L238.1 177.76 L238.6 178.41 L239.1 179.41 L239.6 179.43 L240.1 179.14 L240.6 179.25 L241.1 179.50 L241.6 179.56 L242.1 179.89 L242.6 180.29 L243.1 180.75 L243.6 180.74 L244.1 180.69 L244.6 180.72 L245.1 180.96 L245.6 181.35 L246.1 181.63 L246.6 181.91 L247.1 181.85 L247.6 182.13 L248.1 182.14 L248.6 181.96 L249.1 181.61 L249.6 181.82 L250.1 182.39 L250.6 182.62 L251.1 182.48 L251.6 182.46 L252.1 182.27 L252.6 182.20 L253.1 182.28 L253.6 182.59 L254.1 182.55 L254.6 182.39 L255.1 182.41 L255.6 182.59 L256.1 182.53 L256.6 182.46 L257.1 182.82 L257.6 182.68 L258.1 182.63 L258.6 182.89 L259.1 182.82 L259.6 182.59 L260.1 182.53 L260.6 182.26 L261.1 182.12 L261.6 182.05 L262.1 182.46 L262.6 182.22 L263.1 182.44 L263.6 182.29 L264.1 182.20 L264.6 182.39 L265.1 182.57 L265.6 182.76 L266.1 182.93 L266.6 182.74 L267.1 182.64 L267.6 182.45 L268.1 182.59 L268.6 182.51 L269.1 182.36 L269.6 182.40 L270.1 182.44 L270.6 182.51 L271.1 182.51 L271.6 182.31 L272.1 182.29 L272.6 182.42 L273.1 182.07 L273.6 182.28 L274.1 182.51 L274.6 181.89 L275.1 182.11 L275.6 182.39 L276.1 182.28 L276.6 182.65 L277.1 182.12 L277.6 182.62 L278.1 182.89 L278.6 182.67 L279.1 182.42 L279.6 182.36 L280.1 182.25 L280.6 182.39 L281.1 182.15 L281.6 182.28 L282.1 182.46 L282.6 182.14 L283.1 182.19 L283.6 182.24 L284.1 182.13 L284.6 182.50 L285.1 182.36 L285.6 182.00 L286.1 182.13 L286.6 182.08 L287.1 182.10 L287.6 182.21 L288.1 182.21 L288.6 182.39 L289.1 182.26 L289.6 182.43 L290.1 182.39 L290.6 182.41 L291.1 182.17 L291.6 182.02 L292.1 182.01 L292.6 182.36 L293.1 182.64 L293.6 182.86 L294.1 182.68 L294.6 182.36 L295.1 182.23 L295.6 182.29 L296.1 182.35 L296.6 182.60 L297.1 182.46 L297.6 182.05 L298.1 182.10 L298.6 182.47 L299.1 182.35 L299.6 182.26 L300.1 182.41 L300.6 182.18 L301.1 182.07 L301.6 181.93 L302.1 181.80 L302.6 182.15 L303.1 181.95 L303.6 181.92 L304.1 182.03 L304.6 182.28 L305.1 182.22 L305.6 182.05 L306.1 181.80 L306.6 181.92 L307.1 181.87 L307.6 182.15 L308.1 182.26 L308.6 182.33 L309.1 182.64 L309.6 182.46 L310.1 182.33 L310.6 182.21 L311.1 182.19 L311.6 182.42 L312.1 182.36 L312.6 182.02 L313.1 182.31 L313.6 182.40 L314.1 182.42 L314.6 182.22 L315.1 181.81 L315.6 181.92 L316.1 182.46 L316.6 182.21 L317.1 181.86 L317.6 182.07 L318.1 181.93 L318.6 181.53 L319.1 181.37 L319.6 181.62 L320.1 182.05 L320.6 182.10 L321.1 182.07 L321.6 182.19 L322.1 182.10 L322.6 181.67 L323.1 181.82 L323.6 181.81 L324.1 181.73 L324.6 181.88 L325.1 182.00 L325.6 181.92 L326.1 181.72 L326.6 182.02 L327.1 182.41 L327.6 181.87 L328.1 181.66 L328.6 182.06 L329.1 182.25 L329.6 182.13 L330.1 181.93 L330.6 182.14 L331.1 181.88 L331.6 181.72 L332.1 181.84 L332.6 182.04 L333.1 182.25 L333.6 182.24 L334.1 182.16 L334.6 182.25 L335.1 182.20 L335.6 182.14 L336.1 181.69 L336.6 181.66 L337.1 181.99 L337.6 181.77 L338.1 181.86 L338.6 181.95 L339.1 181.89 L339.6 182.00 L340.1 182.11 L340.6 181.64 L341.1 182.20 L341.6 182.58 L342.1 182.19 L342.6 182.07 L343.1 182.30 L343.6 182.37 L344.1 181.89 L344.6 181.93 L345.1 182.01 L345.6 182.12 L346.1 182.13 L346.6 182.12 L347.1 181.96 L347.6 181.93 L348.1 181.81 L348.6 181.79 L349.1 181.90 L349.6 181.86 L350.1 181.84 L350.6 182.23 L351.1 181.97 L351.6 181.75 L352.1 182.06 L352.6 181.93 L353.1 182.03 L353.6 182.03 L354.1 182.04 L354.6 181.98 L355.1 181.86 L355.6 182.08 L356.1 182.25 L356.6 181.63 L357.1 181.85 L357.6 181.98 L358.1 181.66 L358.6 181.74 L359.1 182.30 L359.6 182.18 L360.1 182.41 L360.6 182.22 L361.1 182.04 L361.6 182.10 L362.1 182.20 L362.6 182.27 L363.1 182.13 L363.6 182.01 L364.1 182.08 L364.6 182.30 L365.1 182.14 L365.6 181.73 L366.1 181.74 L366.6 181.91 L367.1 181.79 L367.6 181.73 L368.1 181.67 L368.6 181.83 L369.1 182.06 L369.6 182.17 L370.1 182.14 L370.6 182.36 L371.1 182.28 L371.6 182.67 L372.1 182.39 L372.6 182.05 L373.1 181.63 L373.6 181.25 L374.1 181.68 L374.6 182.07 L375.1 182.23 L375.6 181.88 L376.1 182.19 L376.6 182.03 L377.1 181.85 L377.6 181.41 L378.1 181.71 L378.6 181.88 L379.1 182.02 L379.6 181.87 L380.1 181.71 L380.6 182.06 L381.1 182.15 L381.6 182.13 L382.1 182.22 L382.6 182.19 L383.1 181.85 L383.6 181.48 L384.1 181.58 L384.6 182.12 L385.1 182.13 L385.6 181.91 L386.1 181.79 L386.6 181.85 L387.1 181.85 L387.6 181.74 L388.1 181.85 L388.6 182.30 L389.1 182.02 L389.6 181.65 L390.1 181.48 L390.6 181.66 L391.1 182.02 L391.6 182.06 L392.1 181.87 L392.6 181.83 L393.1 181.71 L393.6 181.68 L394.1 182.08 L394.6 182.20 L395.1 182.36 L395.6 181.85 L396.1 181.83 L396.6 182.01 L397.1 181.75 L397.6 181.46 L398.1 181.54 L398.6 181.82 L399.1 181.91 L399.6 181.92 L400.1 182.12 L400.6 182.15 L401.1 181.98 L401.6 181.85 L402.1 181.82 L402.6 182.00 L403.1 182.08 L403.6 181.94 L404.1 181.91 L404.6 181.69 L405.1 181.43 L405.6 181.56 L406.1 181.95 L406.6 182.09 L407.1 182.21 L407.6 182.01 L408.1 182.11 L408.6 182.24 L409.1 182.09 L409.6 181.75 L410.1 181.75 L410.6 181.76 L411.1 181.65 L411.6 181.92 L412.1 182.04 L412.6 181.93 L413.1 182.19 L413.6 181.88 L414.1 181.73 L414.6 181.70 L415.1 181.67 L415.6 181.85 L416.1 181.97 L416.6 182.22 L417.1 182.10 L417.6 181.96 L418.1 181.70 L418.6 181.48 L419.1 181.63 L419.6 181.69 L420.1 181.95 L420.6 181.99 L421.1 182.22 L421.6 182.15 L422.1 182.06 L422.6 181.93 L423.1 181.91 L423.6 182.03 L424.1 182.00 L424.6 181.75 L425.1 182.05 L425.6 182.40 L426.1 181.95 L426.6 181.69 L427.1 181.53 L427.6 181.52 L428.1 181.96 L428.6 181.92 L429.1 182.00 L429.6 182.41 L430.1 182.42 L430.6 181.87 L431.1 182.01 L431.6 182.04 L432.1 181.97 L432.6 181.93 L433.1 181.95 L433.6 182.19 L434.1 182.07 L434.6 182.01 L435.1 182.16 L435.6 182.12 L436.1 181.97"/>
<path stroke="#22E322" d="M34.6 224.25 L35.1 224.54 L35.6 224.25 L36.1 223.87 L36.6 223.59 L37.1 223.51 L37.6 223.37 L38.1 223.51 L38.6 223.13 L39.1 221.69 L39.6 220.93 L40.1 220.53 L40.6 220.28 L41.1 220.10 L41.6 220.40 L42.1 220.00 L42.6 219.67 L43.1 219.75 L43.6 220.12 L44.1 220.49 L44.6 220.53 L45.1 220.15 L45.6 219.72 L46.1 219.70 L46.6 219.73 L47.1 219.75 L47.6 219.54 L48.1 219.93 L48.6 220.16 L49.1 220.03 L49.6 219.98 L50.1 219.60 L50.6 219.39 L51.1 219.71 L51.6 220.25 L52.1 220.22 L52.6 219.95 L53.1 220.11 L53.6 220.00 L54.1 220.25 L54.6 220.04 L55.1 219.79 L55.6 219.89 L56.1 219.55 L56.6 219.31 L57.1 219.29 L57.6 219.67 L58.1 219.73 L58.6 219.65 L59.1 219.71 L59.6 220.00 L60.1 219.63 L60.6 219.55 L61.1 220.06 L61.6 220.18 L62.1 219.71 L62.6 219.15 L63.1 219.37 L63.6 219.74 L64.1 219.82 L64.6 219.91 L65.1 219.44 L65.6 219.61 L66.1 219.62 L66.6 219.90 L67.1 219.79 L67.6 219.81 L68.1 219.39 L68.6 219.06 L69.1 219.12 L69.6 219.25 L70.1 219.38 L70.6 219.96 L71.1 220.10 L71.6 219.71 L72.1 219.35 L72.6 219.43 L73.1 219.55 L73.6 219.98 L74.1 219.89 L74.6 219.75 L75.1 219.39 L75.6 218.99 L76.1 219.15 L76.6 219.31 L77.1 219.66 L77.6 219.64 L78.1 219.42 L78.6 219.63 L79.1 219.97 L79.6 219.48 L80.1 219.33 L80.6 219.48 L81.1 219.45 L81.6 219.57 L82.1 219.97 L82.6 220.07 L83.1 219.39 L83.6 219.56 L84.1 219.73 L84.6 219.70 L85.1 219.66 L85.6 219.73 L86.1 219.95 L86.6 219.72 L87.1 219.69 L87.6 219.77 L88.1 219.79 L88.6 219.84 L89.1 220.04 L89.6 219.90 L90.1 219.84 L90.6 219.72 L91.1 219.46 L91.6 219.41 L92.1 219.48 L92.6 219.72 L93.1 219.57 L93.6 219.51 L94.1 219.86 L94.6 219.86 L95.1 219.59 L95.6 220.17 L96.1 220.03 L96.6 219.95 L97.1 220.18 L97.6 219.96 L98.1 219.95 L98.6 220.36 L99.1 219.82 L99.6 219.88 L100.1 220.06 L100.6 219.72 L101.1 219.87 L101.6 220.27 L102.1 220.57 L102.6 219.95 L103.1 219.95 L103.6 220.18 L104.1 219.98 L104.6 219.73 L105.1 220.03 L105.6 220.13 L106.1 220.27 L106.6 220.48 L107.1 220.47 L107.6 220.29 L108.1 220.09 L108.6 219.80 L109.1 219.97 L109.6 220.11 L110.1 220.02 L110.6 220.03 L111.1 220.04 L111.6 220.66 L112.1 220.82 L112.6 220.27 L113.1 220.20 L113.6 220.24 L114.1 220.52 L114.6 220.41 L115.1 220.22 L115.6 220.14 L116.1 220.12 L116.6 220.00 L117.1 220.23 L117.6 220.13 L118.1 220.31 L118.6 220.41 L119.1 220.54 L119.6 220.42 L120.1 220.43 L120.6 220.15 L121.1 220.31 L121.6 220.27 L122.1 220.30 L122.6 220.39 L123.1 220.35 L123.6 219.84 L124.1 220.05 L124.6 220.02 L125.1 220.30 L125.6 219.77 L126.1 219.69 L126.6 219.90 L127.1 220.47 L127.6 220.11 L128.1 220.16 L128.6 220.00 L129.1 219.73 L129.6 220.11 L130.1 220.43 L130.6 220.39 L131.1 220.50 L131.6 220.28 L132.1 220.21 L132.6 220.20 L133.1 220.49 L133.6 220.82 L134.1 220.51 L134.6 220.24 L135.1 219.97 L135.6 220.04 L136.1 220.37 L136.6 219.87 L137.1 219.74 L137.6 219.92 L138.1 220.09 L138.6 220.28 L139.1 219.54 L139.6 219.89 L140.1 220.03 L140.6 219.58 L141.1 219.61 L141.6 220.01 L142.1 220.17 L142.6 219.49 L143.1 219.28 L143.6 219.92 L144.1 220.10 L144.6 219.44 L145.1 219.05 L145.6 219.69 L146.1 219.66 L146.6 219.72 L147.1 219.45 L147.6 219.20 L148.1 219.28 L148.6 219.74 L149.1 219.53 L149.6 218.61 L150.1 218.81 L150.6 219.39 L151.1 218.91 L151.6 218.51 L152.1 218.71 L152.6 218.74 L153.1 218.63 L153.6 218.47 L154.1 218.39 L154.6 218.37 L155.1 218.39 L155.6 218.12 L156.1 218.09 L156.6 218.23 L157.1 218.47 L157.6 218.22 L158.1 217.98 L158.6 218.01 L159.1 218.01 L159.6 218.04 L160.1 217.98 L160.6 218.15 L161.1 217.92 L161.6 217.36 L162.1 217.14 L162.6 217.33 L163.1 217.18 L163.6 216.72 L164.1 216.11 L164.6 215.95 L165.1 216.45 L165.6 216.65 L166.1 216.35 L166.6 215.83 L167.1 216.00 L167.6 215.70 L168.1 215.67 L168.6 215.49 L169.1 214.99 L169.6 214.61 L170.1 214.14 L170.6 214.08 L171.1 213.98 L171.6 214.36 L172.1 214.39 L172.6 214.39 L173.1 214.03 L173.6 213.60 L174.1 213.55 L174.6 213.36 L175.1 213.40 L175.6 213.11 L176.1 212.61 L176.6 212.63 L177.1 212.55 L177.6 212.41 L178.1 212.69 L178.6 212.70 L179.1 211.97 L179.6 211.40 L180.1 210.86 L180.6 211.16 L181.1 210.95 L181.6 210.47 L182.1 210.97 L182.6 211.04 L183.1 210.53 L183.6 210.29 L184.1 210.18 L184.6 210.28 L185.1 209.70 L185.6 209.95 L186.1 210.48 L186.6 209.99 L187.1 209.69 L187.6 209.26 L188.1 208.81 L188.6 208.98 L189.1 208.93 L189.6 208.48 L190.1 208.73 L190.6 209.01 L191.1 208.57 L191.6 207.53 L192.1 207.18 L192.6 207.16 L193.1 207.79 L193.6 207.77 L194.1 207.37 L194.6 206.58 L195.1 206.24 L195.6 206.45 L196.1 206.28 L196.6 205.85 L197.1 205.94 L197.6 205.98 L198.1 205.51 L198.6 204.63 L199.1 204.08 L199.6 204.45 L200.1 204.54 L200.6 204.16 L201.1 203.76 L201.6 203.55 L202.1 203.68 L202.6 203.30 L203.1 202.84 L203.6 202.17 L204.1 201.95 L204.6 201.82 L205.1 201.09 L205.6 200.60 L206.1 200.77 L206.6 200.99 L207.1 200.53 L207.6 200.21 L208.1 199.16 L208.6 198.14 L209.1 197.17 L209.6 197.02 L210.1 197.20 L210.6 196.42 L211.1 195.80 L211.6 195.11 L212.1 194.15 L212.6 193.37 L213.1 192.93 L213.6 192.54 L214.1 191.87 L214.6 191.16 L215.1 190.23 L215.6 189.24 L216.1 188.69 L216.6 188.21 L217.1 187.97 L217.6 186.48 L218.1 186.81 L218.6 187.50 L219.1 186.03 L219.6 185.08 L220.1 185.62 L220.6 186.27 L221.1 186.02 L221.6 186.31 L222.1 186.42 L222.6 187.06 L223.1 188.67 L223.6 188.08 L224.1 187.76 L224.6 188.33 L225.1 189.27 L225.6 190.07 L226.1 190.84 L226.6 191.13 L227.1 191.47 L227.6 192.95 L228.1 193.86 L228.6 194.59 L229.1 195.25 L229.6 196.50 L230.1 197.71 L230.6 198.79 L231.1 199.49 L231.6 200.83 L232.1 201.75 L232.6 202.20 L233.1 203.09 L233.6 204.19 L234.1 205.31 L234.6 205.45 L235.1 206.59 L235.6 207.45 L236.1 208.76 L236.6 210.04 L237.1 210.61 L237.6 211.40 L238.1 212.23 L238.6 213.60 L239.1 214.25 L239.6 214.56 L240.1 214.40 L240.6 214.90 L241.1 215.82 L241.6 215.98 L242.1 216.21 L242.6 216.52 L243.1 216.61 L243.6 217.25 L244.1 217.54 L244.6 217.75 L245.1 217.83 L245.6 218.17 L246.1 218.31 L246.6 218.87 L247.1 219.24 L247.6 219.32 L248.1 219.35 L248.6 219.18 L249.1 218.71 L249.6 219.36 L250.1 219.47 L250.6 219.48 L251.1 219.35 L251.6 219.12 L252.1 219.39 L252.6 219.89 L253.1 220.05 L253.6 219.56 L254.1 219.54 L254.6 219.96 L255.1 219.83 L255.6 220.25 L256.1 219.90 L256.6 219.64 L257.1 220.13 L257.6 220.22 L258.1 219.71 L258.6 220.07 L259.1 220.00 L259.6 220.14 L260.1 219.69 L260.6 219.38 L261.1 219.87 L261.6 220.28 L262.1 220.60 L262.6 220.50 L263.1 220.11 L263.6 219.73 L264.1 219.59 L264.6 219.58 L265.1 219.50 L265.6 219.39 L266.1 219.07 L266.6 219.58 L267.1 220.00 L267.6 220.51 L268.1 220.14 L268.6 219.73 L269.1 219.74 L269.6 219.40 L270.1 219.29 L270.6 219.29 L271.1 219.99 L271.6 219.89 L272.1 219.43 L272.6 219.66 L273.1 219.99 L273.6 219.94 L274.1 219.75 L274.6 219.42 L275.1 219.42 L275.6 219.71 L276.1 219.83 L276.6 219.40 L277.1 219.36 L277.6 219.75 L278.1 219.57 L278.6 219.84 L279.1 219.85 L279.6 220.02 L280.1 220.20 L280.6 220.00 L281.1 219.76 L281.6 219.33 L282.1 219.35 L282.6 219.80 L283.1 220.14 L283.6 220.26 L284.1 220.31 L284.6 219.83 L285.1 219.69 L285.6 219.80 L286.1 219.59 L286.6 219.38 L287.1 219.28 L287.6 219.55 L288.1 219.31 L288.6 219.37 L289.1 219.21 L289.6 219.52 L290.1 219.33 L290.6 219.42 L291.1 219.03 L291.6 219.26 L292.1 219.61 L292.6 219.29 L293.1 219.29 L293.6 219.05 L294.1 218.74 L294.6 219.28 L295.1 219.41 L295.6 219.15 L296.1 219.33 L296.6 219.09 L297.1 218.99 L297.6 219.18 L298.1 219.34 L298.6 219.73 L299.1 219.16 L299.6 219.45 L300.1 219.45 L300.6 218.69 L301.1 218.69 L301.6 219.24 L302.1 219.23 L302.6 219.43 L303.1 219.58 L303.6 219.17 L304.1 218.69 L304.6 218.44 L305.1 218.97 L305.6 219.04 L306.1 219.26 L306.6 219.20 L307.1 219.03 L307.6 219.66 L308.1 219.74 L308.6 219.43 L309.1 218.92 L309.6 218.93 L310.1 218.97 L310.6 218.93 L311.1 218.88 L311.6 219.22 L312.1 219.31 L312.6 219.24 L313.1 219.18 L313.6 219.48 L314.1 219.08 L314.6 218.37 L315.1 218.72 L315.6 219.15 L316.1 219.36 L316.6 219.11 L317.1 218.97 L317.6 218.98 L318.1 219.20 L318.6 219.00 L319.1 218.84 L319.6 218.90 L320.1 219.13 L320.6 218.85 L321.1 218.64 L321.6 219.04 L322.1 218.98 L322.6 219.14 L323.1 219.31 L323.6 219.52 L324.1 219.40 L324.6 218.98 L325.1 218.84 L325.6 218.83 L326.1 219.42 L326.6 219.43 L327.1 219.42 L327.6 218.88 L328.1 218.58 L328.6 219.26 L329.1 219.19 L329.6 219.06 L330.1 219.09 L330.6 219.23 L331.1 219.05 L331.6 218.71 L332.1 219.09 L332.6 218.89 L333.1 218.96 L333.6 219.48 L334.1 219.34 L334.6 218.79 L335.1 218.44 L335.6 218.88 L336.1 219.10 L336.6 218.86 L337.1 218.52 L337.6 218.50 L338.1 218.54 L338.6 218.95 L339.1 219.26 L339.6 219.20 L340.1 218.83 L340.6 218.96 L341.1 219.03 L341.6 218.80 L342.1 219.00 L342.6 219.47 L343.1 219.21 L343.6 219.10 L344.1 218.84 L344.6 218.69 L345.1 218.40 L345.6 218.81 L346.1 219.37 L346.6 219.63 L347.1 219.42 L347.6 219.14 L348.1 218.86 L348.6 218.66 L349.1 218.78 L349.6 218.90 L350.1 218.74 L350.6 218.90 L351.1 218.46 L351.6 218.14 L352.1 218.21 L352.6 218.12 L353.1 218.37 L353.6 218.95 L354.1 218.84 L354.6 218.92 L355.1 219.21 L355.6 219.16 L356.1 218.85 L356.6 219.10 L357.1 218.97 L357.6 218.82 L358.1 218.73 L358.6 218.31 L359.1 218.37 L359.6 218.67 L360.1 218.84 L360.6 218.65 L361.1 218.72 L361.6 219.08 L362.1 219.23 L362.6 219.14 L363.1 219.06 L363.6 218.65 L364.1 218.58 L364.6 218.69 L365.1 218.56 L365.6 218.64 L366.1 219.03 L366.6 218.65 L367.1 218.40 L367.6 218.84 L368.1 219.17 L368.6 218.92 L369.1 218.91 L369.6 218.55 L370.1 218.36 L370.6 218.35 L371.1 218.65 L371.6 218.96 L372.1 218.58 L372.6 218.82 L373.1 218.41 L373.6 218.48 L374.1 218.81 L374.6 218.82 L375.1 218.52 L375.6 218.14 L376.1 218.38 L376.6 218.51 L377.1 219.10 L377.6 218.70 L378.1 218.43 L378.6 218.15 L379.1 218.13 L379.6 218.17 L380.1 218.60 L380.6 218.54 L381.1 218.53 L381.6 218.27 L382.1 218.36 L382.6 218.66 L383.1 218.12 L383.6 217.88 L384.1 218.26 L384.6 218.10 L385.1 218.26 L385.6 218.53 L386.1 218.33 L386.6 218.49 L387.1 218.41 L387.6 218.84 L388.1 218.82 L388.6 218.33 L389.1 218.17 L389.6 218.11 L390.1 218.42 L390.6 218.53 L391.1 218.11 L391.6 218.31 L392.1 217.95 L392.6 217.78 L393.1 217.92 L393.6 218.71 L394.1 218.51 L394.6 218.28 L395.1 218.20 L395.6 218.30 L396.1 217.77 L396.6 218.26 L397.1 218.81 L397.6 218.33 L398.1 218.25 L398.6 218.33 L399.1 218.05 L399.6 218.22 L400.1 218.48 L400.6 218.36 L401.1 218.26 L401.6 218.14 L402.1 218.22 L402.6 218.33 L403.1 218.62 L403.6 218.45 L404.1 217.90 L404.6 217.49 L405.1 218.16 L405.6 218.30 L406.1 217.73 L406.6 217.35 L407.1 217.67 L407.6 218.13 L408.1 217.82 L408.6 217.86 L409.1 218.18 L409.6 218.40 L410.1 218.14 L410.6 217.95 L411.1 218.01 L411.6 218.51 L412.1 218.44 L412.6 217.94 L413.1 217.52 L413.6 217.69 L414.1 217.99 L414.6 217.90 L415.1 218.17 L415.6 218.16 L416.1 218.12 L416.6 218.19 L417.1 218.04 L417.6 217.69 L418.1 217.96 L418.6 218.41 L419.1 217.73 L419.6 217.74 L420.1 218.11 L420.6 217.85 L421.1 217.50 L421.6 217.46 L422.1 217.96 L422.6 218.30 L423.1 218.31 L423.6 218.06 L424.1 218.01 L424.6 217.62 L425.1 217.68 L425.6 217.63 L426.1 217.83 L426.6 218.09 L427.1 218.03 L427.6 217.69 L428.1 217.96 L428.6 217.62 L429.1 217.38 L429.6 217.44 L430.1 217.28 L430.6 217.59 L431.1 217.75 L431.6 217.70 L432.1 217.77 L432.6 217.63 L433.1 217.49 L433.6 217.25 L434.1 217.44 L434.6 217.35 L435.1 217.41 L435.6 217.56 L436.1 217.65"/>
<path stroke="#E31616" d="M34.6 264.80 L35.1 264.37 L35.6 264.50 L36.1 264.60 L36.6 264.54 L37.1 264.67 L37.6 264.73 L38.1 264.40 L38.6 263.94 L39.1 262.45 L39.6 260.39 L40.1 259.24 L40.6 259.39 L41.1 259.36 L41.6 259.21 L42.1 259.17 L42.6 259.33 L43.1 259.26 L43.6 259.22 L44.1 259.12 L44.6 258.77 L45.1 258.65 L45.6 259.06 L46.1 259.11 L46.6 258.84 L47.1 258.98 L47.6 259.47 L48.1 258.81 L48.6 258.69 L49.1 258.72 L49.6 258.43 L50.1 258.84 L50.6 259.40 L51.1 259.25 L51.6 259.03 L52.1 258.91 L52.6 258.82 L53.1 258.89 L53.6 258.57 L54.1 258.40 L54.6 258.61 L55.1 258.84 L55.6 258.76 L56.1 258.50 L56.6 257.99 L57.1 258.84 L57.6 259.44 L58.1 259.04 L58.6 258.32 L59.1 258.07 L59.6 258.23 L60.1 258.11 L60.6 258.38 L61.1 258.31 L61.6 258.68 L62.1 258.60 L62.6 257.78 L63.1 258.05 L63.6 257.89 L64.1 257.63 L64.6 257.85 L65.1 258.19 L65.6 258.36 L66.1 257.94 L66.6 258.60 L67.1 259.03 L67.6 258.67 L68.1 258.44 L68.6 258.13 L69.1 257.88 L69.6 258.29 L70.1 258.47 L70.6 258.76 L71.1 259.20 L71.6 258.77 L72.1 258.60 L72.6 258.63 L73.1 257.84 L73.6 257.68 L74.1 257.92 L74.6 258.07 L75.1 258.37 L75.6 258.42 L76.1 258.96 L76.6 259.03 L77.1 258.65 L77.6 258.31 L78.1 258.53 L78.6 258.51 L79.1 258.08 L79.6 258.38 L80.1 258.60 L80.6 258.64 L81.1 258.99 L81.6 258.81 L82.1 258.22 L82.6 258.21 L83.1 258.16 L83.6 258.36 L84.1 258.25 L84.6 258.62 L85.1 258.70 L85.6 258.72 L86.1 258.28 L86.6 258.09 L87.1 258.79 L87.6 258.68 L88.1 258.87 L88.6 258.76 L89.1 258.86 L89.6 259.10 L90.1 258.86 L90.6 258.73 L91.1 258.16 L91.6 258.50 L92.1 258.40 L92.6 258.33 L93.1 258.42 L93.6 258.69 L94.1 258.77 L94.6 257.98 L95.1 258.13 L95.6 258.29 L96.1 258.64 L96.6 258.43 L97.1 258.45 L97.6 258.38 L98.1 258.67 L98.6 258.74 L99.1 258.36 L99.6 258.20 L100.1 257.95 L100.6 258.41 L101.1 258.62 L101.6 258.40 L102.1 258.44 L102.6 257.61 L103.1 257.38 L103.6 257.65 L104.1 258.04 L104.6 258.29 L105.1 258.31 L105.6 258.38 L106.1 258.51 L106.6 258.12 L107.1 257.73 L107.6 258.01 L108.1 258.61 L108.6 257.76 L109.1 258.15 L109.6 258.81 L110.1 258.52 L110.6 258.07 L111.1 258.29 L111.6 258.69 L112.1 258.66 L112.6 258.19 L113.1 258.44 L113.6 258.54 L114.1 258.79 L114.6 258.78 L115.1 258.12 L115.6 257.77 L116.1 258.39 L116.6 258.91 L117.1 258.65 L117.6 258.61 L118.1 258.89 L118.6 258.21 L119.1 258.30 L119.6 258.10 L120.1 258.13 L120.6 258.36 L121.1 258.55 L121.6 257.95 L122.1 257.69 L122.6 257.61 L123.1 258.06 L123.6 258.06 L124.1 258.08 L124.6 257.76 L125.1 257.97 L125.6 258.36 L126.1 258.20 L126.6 258.30 L127.1 258.25 L127.6 257.82 L128.1 257.60 L128.6 258.20 L129.1 258.29 L129.6 258.13 L130.1 257.27 L130.6 257.00 L131.1 257.01 L131.6 257.56 L132.1 258.25 L132.6 258.22 L133.1 257.97 L133.6 258.01 L134.1 258.09 L134.6 257.87 L135.1 257.93 L135.6 257.64 L136.1 257.03 L136.6 257.52 L137.1 258.06 L137.6 257.67 L138.1 257.48 L138.6 257.34 L139.1 257.47 L139.6 257.82 L140.1 257.42 L140.6 256.75 L141.1 256.22 L141.6 256.63 L142.1 256.43 L142.6 256.56 L143.1 257.39 L143.6 257.31 L144.1 256.70 L144.6 257.23 L145.1 257.23 L145.6 256.89 L146.1 256.95 L146.6 256.33 L147.1 256.12 L147.6 256.06 L148.1 256.30 L148.6 256.68 L149.1 256.11 L149.6 255.87 L150.1 256.01 L150.6 256.27 L151.1 256.26 L151.6 256.34 L152.1 255.78 L152.6 255.40 L153.1 255.56 L153.6 255.62 L154.1 255.38 L154.6 255.75 L155.1 256.03 L155.6 255.35 L156.1 255.32 L156.6 255.50 L157.1 254.82 L157.6 254.37 L158.1 254.31 L158.6 254.69 L159.1 254.71 L159.6 254.38 L160.1 254.39 L160.6 254.67 L161.1 254.28 L161.6 253.47 L162.1 253.57 L162.6 253.71 L163.1 253.69 L163.6 253.22 L164.1 252.82 L164.6 252.51 L165.1 252.10 L165.6 252.34 L166.1 252.29 L166.6 252.25 L167.1 251.72 L167.6 251.50 L168.1 251.17 L168.6 251.09 L169.1 251.40 L169.6 251.10 L170.1 250.90 L170.6 250.38 L171.1 250.22 L171.6 249.65 L172.1 249.68 L172.6 249.77 L173.1 249.93 L173.6 249.67 L174.1 249.42 L174.6 249.49 L175.1 249.23 L175.6 249.12 L176.1 248.96 L176.6 248.45 L177.1 248.16 L177.6 248.10 L178.1 247.83 L178.6 247.97 L179.1 248.17 L179.6 247.84 L180.1 247.02 L180.6 246.49 L181.1 246.69 L181.6 246.84 L182.1 246.96 L182.6 246.38 L183.1 246.22 L183.6 246.30 L184.1 245.81 L184.6 245.87 L185.1 246.49 L185.6 246.37 L186.1 245.76 L186.6 245.14 L187.1 244.61 L187.6 244.82 L188.1 244.66 L188.6 244.37 L189.1 243.96 L189.6 243.85 L190.1 243.72 L190.6 243.87 L191.1 244.07 L191.6 243.27 L192.1 242.13 L192.6 241.84 L193.1 241.57 L193.6 241.81 L194.1 242.28 L194.6 242.04 L195.1 241.49 L195.6 241.35 L196.1 240.70 L196.6 240.02 L197.1 239.78 L197.6 240.14 L198.1 240.60 L198.6 239.84 L199.1 240.37 L199.6 240.33 L200.1 239.42 L200.6 238.91 L201.1 238.51 L201.6 238.56 L202.1 238.62 L202.6 238.33 L203.1 238.49 L203.6 238.37 L204.1 237.75 L204.6 237.29 L205.1 236.88 L205.6 236.47 L206.1 235.73 L206.6 235.82 L207.1 235.39 L207.6 234.89 L208.1 235.23 L208.6 233.69 L209.1 232.90 L209.6 232.53 L210.1 231.14 L210.6 230.53 L211.1 229.72 L211.6 229.31 L212.1 229.23 L212.6 229.07 L213.1 228.82 L213.6 228.16 L214.1 227.49 L214.6 226.30 L215.1 225.16 L215.6 224.77 L216.1 223.33 L216.6 222.59 L217.1 222.98 L217.6 222.25 L218.1 221.27 L218.6 220.90 L219.1 220.08 L219.6 218.54 L220.1 218.35 L220.6 218.13 L221.1 218.64 L221.6 219.04 L222.1 220.24 L222.6 220.24 L223.1 219.82 L223.6 220.22 L224.1 220.46 L224.6 221.77 L225.1 223.08 L225.6 223.51 L226.1 223.49 L226.6 225.16 L227.1 226.93 L227.6 228.24 L228.1 229.46 L228.6 229.95 L229.1 231.64 L229.6 232.90 L230.1 234.57 L230.6 236.23 L231.1 237.52 L231.6 238.43 L232.1 239.78 L232.6 240.67 L233.1 242.06 L233.6 244.15 L234.1 245.23 L234.6 245.79 L235.1 247.04 L235.6 248.58 L236.1 250.04 L236.6 250.78 L237.1 251.02 L237.6 250.91 L238.1 251.90 L238.6 252.88 L239.1 253.43 L239.6 253.81 L240.1 254.25 L240.6 255.25 L241.1 255.59 L241.6 255.28 L242.1 255.48 L242.6 256.42 L243.1 256.35 L243.6 256.96 L244.1 257.27 L244.6 256.71 L245.1 256.91 L245.6 257.09 L246.1 257.44 L246.6 257.79 L247.1 258.28 L247.6 258.07 L248.1 257.95 L248.6 258.18 L249.1 257.91 L249.6 258.05 L250.1 258.58 L250.6 257.93 L251.1 257.78 L251.6 257.89 L252.1 257.50 L252.6 257.40 L253.1 258.12 L253.6 257.91 L254.1 257.82 L254.6 257.85 L255.1 257.67 L255.6 257.71 L256.1 258.35 L256.6 259.04 L257.1 258.74 L257.6 258.33 L258.1 257.76 L258.6 257.87 L259.1 257.87 L259.6 258.27 L260.1 258.18 L260.6 258.14 L261.1 258.08 L261.6 257.80 L262.1 257.67 L262.6 258.04 L263.1 257.65 L263.6 257.60 L264.1 257.86 L264.6 257.92 L265.1 258.27 L265.6 258.54 L266.1 258.36 L266.6 258.24 L267.1 258.27 L267.6 258.23 L268.1 257.68 L268.6 257.96 L269.1 257.74 L269.6 257.64 L270.1 257.96 L270.6 258.07 L271.1 258.39 L271.6 258.29 L272.1 257.48 L272.6 258.06 L273.1 258.84 L273.6 258.76 L274.1 258.69 L274.6 258.14 L275.1 257.53 L275.6 257.66 L276.1 258.31 L276.6 258.41 L277.1 257.93 L277.6 257.95 L278.1 257.95 L278.6 257.51 L279.1 257.95 L279.6 258.80 L280.1 258.95 L280.6 258.47 L281.1 258.59 L281.6 258.00 L282.1 257.50 L282.6 257.35 L283.1 258.08 L283.6 258.29 L284.1 258.80 L284.6 258.43 L285.1 257.94 L285.6 257.64 L286.1 258.29 L286.6 258.06 L287.1 257.70 L287.6 257.39 L288.1 258.19 L288.6 258.37 L289.1 257.94 L289.6 258.02 L290.1 258.25 L290.6 258.37 L291.1 258.33 L291.6 258.55 L292.1 258.04 L292.6 257.73 L293.1 257.50 L293.6 257.03 L294.1 257.56 L294.6 258.26 L295.1 258.09 L295.6 257.79 L296.1 257.79 L296.6 257.33 L297.1 257.73 L297.6 258.19 L298.1 258.18 L298.6 257.90 L299.1 258.39 L299.6 258.63 L300.1 258.11 L300.6 257.99 L301.1 257.33 L301.6 257.23 L302.1 257.96 L302.6 258.07 L303.1 257.97 L303.6 257.76 L304.1 257.89 L304.6 258.38 L305.1 258.58 L305.6 257.90 L306.1 257.54 L306.6 258.26 L307.1 258.36 L307.6 258.26 L308.1 258.34 L308.6 258.73 L309.1 258.28 L309.6 257.92 L310.1 257.34 L310.6 257.48 L311.1 257.66 L311.6 257.90 L312.1 257.97 L312.6 257.92 L313.1 258.31 L313.6 257.73 L314.1 257.70 L314.6 257.83 L315.1 257.62 L315.6 258.05 L316.1 258.17 L316.6 258.11 L317.1 258.53 L317.6 258.19 L318.1 257.93 L318.6 257.47 L319.1 257.21 L319.6 257.51 L320.1 257.70 L320.6 257.82 L321.1 257.86 L321.6 257.11 L322.1 257.10 L322.6 257.35 L323.1 258.09 L323.6 257.82 L324.1 257.57 L324.6 257.60 L325.1 258.04 L325.6 257.90 L326.1 257.72 L326.6 257.40 L327.1 258.11 L327.6 258.22 L328.1 258.26 L328.6 258.35 L329.1 257.96 L329.6 257.91 L330.1 258.16 L330.6 258.09 L331.1 257.87 L331.6 257.83 L332.1 257.82 L332.6 258.18 L333.1 258.28 L333.6 258.20 L334.1 258.34 L334.6 257.57 L335.1 257.84 L335.6 258.38 L336.1 257.77 L336.6 257.48 L337.1 258.23 L337.6 258.09 L338.1 257.64 L338.6 257.90 L339.1 257.49 L339.6 257.32 L340.1 257.64 L340.6 257.59 L341.1 257.43 L341.6 257.53 L342.1 257.52 L342.6 257.79 L343.1 257.96 L343.6 258.07 L344.1 257.66 L344.6 257.25 L345.1 257.27 L345.6 257.82 L346.1 258.44 L346.6 258.24 L347.1 257.85 L347.6 257.98 L348.1 257.70 L348.6 258.03 L349.1 257.93 L349.6 258.14 L350.1 258.12 L350.6 257.88 L351.1 257.82 L351.6 257.54 L352.1 257.84 L352.6 258.65 L353.1 259.38 L353.6 258.54 L354.1 257.85 L354.6 257.65 L355.1 257.91 L355.6 257.34 L356.1 257.45 L356.6 257.75 L357.1 257.67 L357.6 258.34 L358.1 258.31 L358.6 257.72 L359.1 257.46 L359.6 257.21 L360.1 257.30 L360.6 257.90 L361.1 258.13 L361.6 258.05 L362.1 257.91 L362.6 257.73 L363.1 257.74 L363.6 257.40 L364.1 257.84 L364.6 258.46 L365.1 258.38 L365.6 257.79 L366.1 257.83 L366.6 258.44 L367.1 258.40 L367.6 257.49 L368.1 257.56 L368.6 257.99 L369.1 258.16 L369.6 257.76 L370.1 257.92 L370.6 258.06 L371.1 258.62 L371.6 258.21 L372.1 257.79 L372.6 257.82 L373.1 258.21 L373.6 258.04 L374.1 257.57 L374.6 257.63 L375.1 257.33 L375.6 257.29 L376.1 257.17 L376.6 257.17 L377.1 257.35 L377.6 257.48 L378.1 257.97 L378.6 258.11 L379.1 257.70 L379.6 257.51 L380.1 257.74 L380.6 257.03 L381.1 257.04 L381.6 257.91 L382.1 258.21 L382.6 258.18 L383.1 257.71 L383.6 257.32 L384.1 257.57 L384.6 257.86 L385.1 257.55 L385.6 257.35 L386.1 257.15 L386.6 257.37 L387.1 258.00 L387.6 257.92 L388.1 257.36 L388.6 257.27 L389.1 257.56 L389.6 257.79 L390.1 257.46 L390.6 257.39 L391.1 256.95 L391.6 257.20 L392.1 257.90 L392.6 258.01 L393.1 257.44 L393.6 257.51 L394.1 257.93 L394.6 257.70 L395.1 257.64 L395.6 257.93 L396.1 258.04 L396.6 258.27 L397.1 258.11 L397.6 257.68 L398.1 257.69 L398.6 257.62 L399.1 257.24 L399.6 257.44 L400.1 257.83 L400.6 257.49 L401.1 257.98 L401.6 257.98 L402.1 257.84 L402.6 258.00 L403.1 258.14 L403.6 258.19 L404.1 257.77 L404.6 257.65 L405.1 257.89 L405.6 258.48 L406.1 258.20 L406.6 257.55 L407.1 257.50 L407.6 257.52 L408.1 257.74 L408.6 258.11 L409.1 258.36 L409.6 257.55 L410.1 257.97 L410.6 257.96 L411.1 257.59 L411.6 257.61 L412.1 257.61 L412.6 257.86 L413.1 257.95 L413.6 257.54 L414.1 258.01 L414.6 257.97 L415.1 258.28 L415.6 258.22 L416.1 258.29 L416.6 258.22 L417.1 258.21 L417.6 257.83 L418.1 257.59 L418.6 257.99 L419.1 258.32 L419.6 258.33 L420.1 257.34 L420.6 257.62 L421.1 257.97 L421.6 257.47 L422.1 257.80 L422.6 258.60 L423.1 258.38 L423.6 257.81 L424.1 258.28 L424.6 258.41 L425.1 258.21 L425.6 258.02 L426.1 257.81 L426.6 257.47 L427.1 257.60 L427.6 257.98 L428.1 258.11 L428.6 258.36 L429.1 257.62 L429.6 256.93 L430.1 257.45 L430.6 257.88 L431.1 257.95 L431.6 257.76 L432.1 257.69 L432.6 258.11 L433.1 257.81 L433.6 257.91 L434.1 257.64 L434.6 257.52 L435.1 257.84 L435.6 257.03 L436.1 257.24"/>
<path stroke="#0c0c0c" d="M34.6 300.95 L35.1 300.89 L35.6 300.98 L36.1 300.83 L36.6 300.82 L37.1 301.09 L37.6 300.72 L38.1 300.42 L38.6 300.04 L39.1 299.43 L39.6 298.81 L40.1 298.10 L40.6 297.67 L41.1 297.55 L41.6 297.58 L42.1 297.27 L42.6 297.36 L43.1 297.41 L43.6 297.36 L44.1 297.45 L44.6 297.33 L45.1 297.41 L45.6 297.83 L46.1 297.81 L46.6 297.74 L47.1 297.60 L47.6 297.68 L48.1 297.72 L48.6 297.86 L49.1 297.93 L49.6 297.52 L50.1 297.42 L50.6 297.16 L51.1 296.59 L51.6 296.86 L52.1 297.30 L52.6 297.43 L53.1 297.34 L53.6 297.59 L54.1 297.62 L54.6 297.41 L55.1 297.67 L55.6 297.76 L56.1 297.43 L56.6 297.21 L57.1 297.49 L57.6 297.31 L58.1 297.18 L58.6 297.22 L59.1 297.22 L59.6 297.47 L60.1 297.54 L60.6 297.56 L61.1 297.37 L61.6 297.10 L62.1 297.20 L62.6 297.35 L63.1 297.38 L63.6 297.74 L64.1 297.32 L64.6 297.15 L65.1 297.44 L65.6 297.42 L66.1 297.23 L66.6 297.18 L67.1 297.32 L67.6 297.44 L68.1 297.38 L68.6 297.22 L69.1 297.32 L69.6 297.45 L70.1 297.21 L70.6 296.59 L71.1 296.78 L71.6 296.99 L72.1 297.13 L72.6 297.30 L73.1 297.46 L73.6 297.41 L74.1 297.25 L74.6 297.35 L75.1 297.56 L75.6 297.27 L76.1 297.38 L76.6 297.62 L77.1 297.31 L77.6 296.93 L78.1 297.20 L78.6 297.24 L79.1 297.32 L79.6 297.54 L80.1 297.46 L80.6 297.36 L81.1 297.51 L81.6 297.48 L82.1 297.41 L82.6 297.43 L83.1 297.40 L83.6 297.28 L84.1 297.25 L84.6 297.28 L85.1 297.11 L85.6 297.16 L86.1 297.54 L86.6 297.42 L87.1 297.36 L87.6 297.37 L88.1 297.39 L88.6 297.41 L89.1 297.36 L89.6 297.31 L90.1 297.48 L90.6 297.39 L91.1 297.43 L91.6 297.02 L92.1 297.13 L92.6 297.51 L93.1 297.39 L93.6 297.28 L94.1 297.36 L94.6 297.23 L95.1 297.20 L95.6 296.94 L96.1 297.13 L96.6 297.28 L97.1 297.52 L97.6 297.55 L98.1 297.39 L98.6 297.62 L99.1 297.26 L99.6 296.81 L100.1 296.90 L100.6 297.54 L101.1 297.44 L101.6 297.22 L102.1 297.14 L102.6 297.23 L103.1 297.59 L103.6 297.59 L104.1 297.73 L104.6 297.32 L105.1 296.98 L105.6 297.39 L106.1 297.37 L106.6 297.43 L107.1 297.67 L107.6 297.53 L108.1 297.61 L108.6 297.43 L109.1 297.29 L109.6 297.41 L110.1 297.40 L110.6 297.66 L111.1 297.67 L111.6 297.51 L112.1 297.56 L112.6 297.53 L113.1 297.44 L113.6 297.54 L114.1 297.45 L114.6 297.44 L115.1 297.26 L115.6 297.39 L116.1 297.44 L116.6 297.25 L117.1 297.23 L117.6 297.32 L118.1 297.46 L118.6 297.34 L119.1 297.54 L119.6 297.75 L120.1 297.47 L120.6 297.12 L121.1 297.39 L121.6 297.59 L122.1 297.49 L122.6 297.64 L123.1 297.62 L123.6 297.51 L124.1 297.35 L124.6 297.27 L125.1 297.32 L125.6 297.43 L126.1 297.54 L126.6 297.50 L127.1 297.38 L127.6 297.42 L128.1 297.38 L128.6 297.06 L129.1 297.10 L129.6 297.18 L130.1 297.29 L130.6 297.32 L131.1 297.28 L131.6 297.26 L132.1 297.49 L132.6 297.39 L133.1 297.10 L133.6 297.22 L134.1 297.29 L134.6 297.62 L135.1 297.39 L135.6 297.29 L136.1 297.37 L136.6 297.35 L137.1 297.46 L137.6 297.69 L138.1 297.58 L138.6 297.63 L139.1 297.58 L139.6 297.36 L140.1 297.67 L140.6 297.67 L141.1 297.53 L141.6 297.30 L142.1 297.48 L142.6 297.44 L143.1 297.41 L143.6 297.78 L144.1 297.57 L144.6 297.32 L145.1 297.40 L145.6 297.57 L146.1 297.62 L146.6 297.56 L147.1 297.65 L147.6 297.55 L148.1 297.06 L148.6 296.98 L149.1 296.98 L149.6 297.21 L150.1 297.46 L150.6 297.24 L151.1 296.86 L151.6 296.95 L152.1 297.11 L152.6 296.87 L153.1 296.83 L153.6 296.75 L154.1 296.47 L154.6 296.76 L155.1 296.81 L155.6 296.66 L156.1 296.32 L156.6 296.20 L157.1 296.25 L157.6 296.35 L158.1 296.31 L158.6 296.36 L159.1 296.60 L159.6 296.41 L160.1 295.90 L160.6 295.87 L161.1 296.15 L161.6 295.94 L162.1 296.09 L162.6 296.02 L163.1 295.52 L163.6 295.36 L164.1 295.28 L164.6 294.99 L165.1 294.82 L165.6 294.90 L166.1 294.99 L166.6 294.69 L167.1 294.49 L167.6 294.25 L168.1 294.10 L168.6 294.24 L169.1 293.58 L169.6 293.62 L170.1 293.71 L170.6 293.37 L171.1 293.57 L171.6 293.55 L172.1 293.06 L172.6 292.89 L173.1 292.65 L173.6 292.74 L174.1 292.63 L174.6 292.57 L175.1 292.64 L175.6 292.46 L176.1 292.41 L176.6 292.04 L177.1 291.54 L177.6 291.64 L178.1 291.54 L178.6 291.21 L179.1 291.51 L179.6 291.34 L180.1 291.11 L180.6 290.80 L181.1 290.85 L181.6 290.83 L182.1 290.63 L182.6 290.40 L183.1 290.09 L183.6 290.46 L184.1 289.95 L184.6 289.49 L185.1 289.62 L185.6 289.77 L186.1 289.90 L186.6 289.66 L187.1 289.64 L187.6 289.59 L188.1 290.05 L188.6 289.91 L189.1 289.78 L189.6 289.18 L190.1 289.12 L190.6 288.87 L191.1 289.02 L191.6 288.87 L192.1 288.22 L192.6 288.02 L193.1 287.90 L193.6 287.75 L194.1 287.78 L194.6 287.61 L195.1 287.46 L195.6 287.73 L196.1 287.67 L196.6 287.14 L197.1 287.07 L197.6 287.11 L198.1 286.90 L198.6 286.72 L199.1 286.93 L199.6 286.89 L200.1 286.59 L200.6 286.35 L201.1 286.67 L201.6 286.41 L202.1 285.62 L202.6 285.42 L203.1 285.42 L203.6 284.87 L204.1 284.77 L204.6 284.48 L205.1 284.04 L205.6 283.73 L206.1 283.24 L206.6 283.01 L207.1 282.84 L207.6 283.62 L208.1 283.51 L208.6 282.98 L209.1 282.44 L209.6 282.25 L210.1 282.02 L210.6 281.56 L211.1 280.89 L211.6 279.99 L212.1 279.67 L212.6 278.97 L213.1 278.19 L213.6 277.84 L214.1 277.99 L214.6 277.67 L215.1 276.78 L215.6 277.00 L216.1 276.48 L216.6 275.21 L217.1 274.46 L217.6 274.23 L218.1 274.11 L218.6 273.37 L219.1 272.99 L219.6 273.16 L220.1 272.80 L220.6 273.58 L221.1 274.31 L221.6 274.41 L222.1 274.70 L222.6 274.97 L223.1 275.26 L223.6 275.28 L224.1 275.27 L224.6 275.79 L225.1 276.59 L225.6 277.71 L226.1 278.54 L226.6 278.79 L227.1 279.07 L227.6 279.85 L228.1 281.04 L228.6 282.33 L229.1 282.96 L229.6 283.48 L230.1 284.16 L230.6 285.21 L231.1 285.81 L231.6 286.32 L232.1 287.13 L232.6 288.07 L233.1 288.55 L233.6 289.50 L234.1 290.11 L234.6 290.50 L235.1 291.18 L235.6 291.58 L236.1 291.99 L236.6 292.60 L237.1 293.16 L237.6 293.90 L238.1 294.41 L238.6 294.93 L239.1 295.11 L239.6 294.86 L240.1 295.40 L240.6 295.53 L241.1 295.89 L241.6 296.05 L242.1 296.43 L242.6 296.70 L243.1 296.44 L243.6 296.74 L244.1 296.82 L244.6 296.74 L245.1 297.20 L245.6 297.32 L246.1 297.25 L246.6 297.52 L247.1 298.12 L247.6 297.65 L248.1 297.26 L248.6 297.42 L249.1 297.62 L249.6 297.69 L250.1 297.70 L250.6 297.64 L251.1 297.83 L251.6 297.69 L252.1 297.50 L252.6 297.58 L253.1 297.79 L253.6 298.04 L254.1 298.00 L254.6 297.85 L255.1 297.88 L255.6 298.07 L256.1 298.26 L256.6 297.94 L257.1 298.00 L257.6 298.01 L258.1 297.77 L258.6 297.89 L259.1 297.91 L259.6 297.86 L260.1 298.05 L260.6 298.21 L261.1 298.17 L261.6 297.95 L262.1 298.07 L262.6 298.30 L263.1 297.85 L263.6 297.93 L264.1 298.09 L264.6 298.02 L265.1 298.04 L265.6 298.02 L266.1 298.13 L266.6 298.18 L267.1 297.94 L267.6 297.91 L268.1 297.86 L268.6 297.80 L269.1 297.78 L269.6 297.71 L270.1 298.07 L270.6 298.37 L271.1 298.41 L271.6 298.18 L272.1 297.87 L272.6 298.07 L273.1 297.83 L273.6 297.94 L274.1 298.16 L274.6 297.84 L275.1 297.98 L275.6 297.97 L276.1 297.80 L276.6 297.71 L277.1 297.86 L277.6 297.87 L278.1 298.12 L278.6 298.08 L279.1 297.64 L279.6 297.65 L280.1 297.69 L280.6 297.53 L281.1 297.57 L281.6 297.78 L282.1 297.71 L282.6 297.48 L283.1 297.67 L283.6 297.83 L284.1 297.58 L284.6 297.69 L285.1 298.17 L285.6 298.09 L286.1 297.52 L286.6 297.49 L287.1 297.74 L287.6 297.61 L288.1 297.68 L288.6 297.76 L289.1 297.74 L289.6 297.23 L290.1 297.15 L290.6 297.51 L291.1 297.93 L291.6 297.75 L292.1 297.51 L292.6 297.85 L293.1 297.97 L293.6 297.79 L294.1 297.76 L294.6 297.95 L295.1 298.08 L295.6 297.95 L296.1 297.92 L296.6 297.81 L297.1 297.67 L297.6 297.62 L298.1 297.77 L298.6 297.75 L299.1 297.80 L299.6 298.00 L300.1 298.01 L300.6 297.90 L301.1 297.58 L301.6 297.77 L302.1 297.67 L302.6 297.54 L303.1 297.65 L303.6 298.03 L304.1 297.99 L304.6 297.63 L305.1 297.52 L305.6 297.69 L306.1 297.81 L306.6 297.99 L307.1 297.49 L307.6 297.32 L308.1 297.62 L308.6 297.78 L309.1 297.86 L309.6 298.07 L310.1 298.21 L310.6 297.81 L311.1 297.54 L311.6 297.42 L312.1 297.77 L312.6 297.94 L313.1 297.86 L313.6 297.99 L314.1 297.95 L314.6 298.09 L315.1 297.87 L315.6 297.55 L316.1 297.48 L316.6 297.32 L317.1 297.35 L317.6 297.76 L318.1 298.08 L318.6 298.20 L319.1 297.86 L319.6 297.64 L320.1 297.60 L320.6 297.91 L321.1 297.86 L321.6 297.71 L322.1 297.89 L322.6 297.79 L323.1 297.48 L323.6 297.79 L324.1 297.80 L324.6 297.66 L325.1 297.76 L325.6 298.16 L326.1 298.28 L326.6 298.13 L327.1 297.60 L327.6 297.61 L328.1 297.80 L328.6 297.52 L329.1 297.41 L329.6 297.47 L330.1 298.06 L330.6 298.10 L331.1 297.91 L331.6 297.79 L332.1 297.65 L332.6 297.68 L333.1 297.79 L333.6 297.72 L334.1 297.90 L334.6 297.66 L335.1 297.62 L335.6 297.92 L336.1 297.83 L336.6 297.80 L337.1 297.54 L337.6 297.30 L338.1 297.60 L338.6 297.57 L339.1 297.75 L339.6 297.38 L340.1 297.28 L340.6 297.69 L341.1 297.83 L341.6 297.69 L342.1 297.55 L342.6 297.72 L343.1 297.46 L343.6 297.48 L344.1 297.51 L344.6 297.65 L345.1 297.82 L345.6 297.69 L346.1 297.83 L346.6 297.78 L347.1 297.35 L347.6 297.35 L348.1 297.52 L348.6 297.59 L349.1 297.61 L349.6 297.40 L350.1 297.77 L350.6 297.89 L351.1 297.63 L351.6 297.43 L352.1 297.58 L352.6 297.64 L353.1 297.77 L353.6 297.77 L354.1 297.81 L354.6 297.76 L355.1 297.80 L355.6 297.28 L356.1 297.38 L356.6 297.63 L357.1 297.48 L357.6 297.66 L358.1 297.51 L358.6 297.58 L359.1 297.49 L359.6 297.56 L360.1 297.69 L360.6 297.66 L361.1 297.75 L361.6 298.09 L362.1 297.77 L362.6 297.56 L363.1 297.86 L363.6 297.99 L364.1 298.09 L364.6 298.05 L365.1 297.69 L365.6 297.90 L366.1 297.97 L366.6 297.77 L367.1 297.54 L367.6 297.08 L368.1 297.49 L368.6 297.87 L369.1 297.41 L369.6 297.48 L370.1 297.74 L370.6 297.91 L371.1 297.92 L371.6 297.44 L372.1 297.62 L372.6 297.76 L373.1 297.47 L373.6 297.70 L374.1 298.12 L374.6 298.08 L375.1 297.69 L375.6 297.19 L376.1 297.50 L376.6 297.71 L377.1 297.63 L377.6 297.83 L378.1 298.25 L378.6 297.76 L379.1 297.48 L379.6 297.63 L380.1 297.60 L380.6 297.58 L381.1 297.67 L381.6 297.82 L382.1 297.68 L382.6 297.43 L383.1 297.59 L383.6 297.71 L384.1 297.67 L384.6 297.90 L385.1 297.82 L385.6 297.53 L386.1 297.78 L386.6 298.16 L387.1 298.08 L387.6 297.80 L388.1 297.78 L388.6 297.48 L389.1 297.36 L389.6 297.68 L390.1 297.77 L390.6 297.76 L391.1 297.70 L391.6 297.68 L392.1 297.60 L392.6 297.76 L393.1 297.83 L393.6 297.74 L394.1 297.68 L394.6 297.30 L395.1 297.47 L395.6 297.99 L396.1 298.09 L396.6 297.80 L397.1 297.55 L397.6 297.41 L398.1 297.68 L398.6 297.72 L399.1 297.44 L399.6 297.68 L400.1 297.80 L400.6 297.68 L401.1 297.48 L401.6 297.57 L402.1 297.47 L402.6 297.83 L403.1 297.68 L403.6 297.50 L404.1 297.89 L404.6 297.90 L405.1 297.72 L405.6 297.95 L406.1 297.60 L406.6 297.70 L407.1 297.73 L407.6 297.33 L408.1 297.67 L408.6 297.68 L409.1 297.55 L409.6 297.44 L410.1 297.55 L410.6 297.37 L411.1 297.33 L411.6 297.39 L412.1 297.46 L412.6 297.76 L413.1 297.42 L413.6 297.37 L414.1 297.51 L414.6 297.65 L415.1 297.83 L415.6 297.81 L416.1 297.59 L416.6 297.53 L417.1 297.65 L417.6 297.82 L418.1 297.77 L418.6 297.43 L419.1 297.32 L419.6 297.96 L420.1 297.96 L420.6 297.75 L421.1 297.66 L421.6 297.47 L422.1 297.36 L422.6 297.47 L423.1 297.51 L423.6 297.38 L424.1 297.27 L424.6 297.49 L425.1 297.67 L425.6 297.55 L426.1 297.45 L426.6 297.19 L427.1 297.43 L427.6 297.49 L428.1 297.25 L428.6 297.22 L429.1 297.52 L429.6 297.51 L430.1 297.62 L430.6 297.59 L431.1 297.68 L431.6 297.48 L432.1 297.28 L432.6 297.47 L433.1 297.58 L433.6 297.68 L434.1 297.53 L434.6 297.55 L435.1 297.82 L435.6 297.93 L436.1 297.82"/>
</g>
<g stroke="#202020" stroke-width="1.2" fill="none">
<rect x="21.6" y="1.6" width="421.0" height="308.2"/>
<path d="M54.10 309.8V306.0M54.10 1.6V5.4M86.50 309.8V303.8M86.50 1.6V7.6M118.90 309.8V306.0M118.90 1.6V5.4M151.30 309.8V303.8M151.30 1.6V7.6M183.70 309.8V306.0M183.70 1.6V5.4M216.10 309.8V303.8M216.10 1.6V7.6M248.50 309.8V306.0M248.50 1.6V5.4M280.90 309.8V303.8M280.90 1.6V7.6M313.30 309.8V306.0M313.30 1.6V5.4M345.70 309.8V303.8M345.70 1.6V7.6M378.10 309.8V306.0M378.10 1.6V5.4M410.50 309.8V303.8M410.50 1.6V7.6" stroke-width="1.05" stroke="#2a2a2a"/>
</g>
<g opacity="0.995">
<g font-family="'Liberation Sans', Arial, sans-serif" font-size="10.1" fill="#161616" text-anchor="middle">
<text x="22.0" y="325.0">0</text>
<text x="87.1" y="325.0">500</text>
<text x="151.9" y="325.0">1000</text>
<text x="216.8" y="325.0">1500</text>
<text x="280.7" y="325.0">2000</text>
<text x="345.4" y="325.0">2500</text>
<text x="410.2" y="325.0">3000</text>
</g>
<g font-family="'Liberation Sans', Arial, sans-serif" fill="#111">
<text x="176" y="343.3" font-size="13.9">Raman shift (cm<tspan font-size="7.8" dy="-5.6">-1</tspan><tspan dy="5.6">)</tspan></text>
<text transform="translate(14.0 214.1) rotate(-90)" font-size="15.2">Intensity (a.u.)</text>
<text transform="translate(200.6 38.3) rotate(-90)" font-size="10">Band D</text>
<text transform="translate(222.8 40.6) rotate(-90)" font-size="10">Band G</text>
</g>
<g font-family="'Liberation Sans', Arial, sans-serif" font-weight="bold" font-size="12.35">
<text transform="translate(345.9 56.2) scale(1 1.05)" fill="#E68C0C">a-C:H-40_60%N<tspan font-size="8.0" dy="5.1" dx="-0.4">2</tspan></text>
<rect x="396.9" y="57.1" width="6.9" height="1.35" fill="#E68C0C"/>
<text transform="translate(341.4 93.2) scale(1 1.05)" fill="#EC14EA">a-C:H-40_50%N<tspan font-size="8.0" dy="5.1" dx="-0.4">2</tspan></text>
<rect x="392.4" y="94.1" width="6.9" height="1.35" fill="#EC14EA"/>
<text transform="translate(341.9 132.2) scale(1 1.05)" fill="#1CEAF4">a-C:H-40_40%N<tspan font-size="8.0" dy="5.1" dx="-0.4">2</tspan></text>
<rect x="392.9" y="133.1" width="6.9" height="1.35" fill="#1CEAF4"/>
<text transform="translate(341.9 171.3) scale(1 1.05)" fill="#1212C8">a-C:H-40_30%N<tspan font-size="8.0" dy="5.1" dx="-0.4">2</tspan></text>
<rect x="392.9" y="172.2" width="6.9" height="1.35" fill="#1212C8"/>
<text transform="translate(342.0 209.1) scale(1 1.05)" fill="#22E322">a-C:H-40_20%N<tspan font-size="8.0" dy="5.1" dx="-0.4">2</tspan></text>
<rect x="393.0" y="210.0" width="6.9" height="1.35" fill="#22E322"/>
<text transform="translate(341.0 247.0) scale(1 1.05)" fill="#E31616">a-C:H-40_10%N<tspan font-size="8.0" dy="5.1" dx="-0.4">2</tspan></text>
<rect x="392.0" y="247.9" width="6.9" height="1.35" fill="#E31616"/>
<text transform="translate(345.3 286.0) scale(1 1.05)" fill="#0c0c0c">a-C:H-40_0%N<tspan font-size="8.0" dy="5.1" dx="-0.4">2</tspan></text>
<rect x="396.3" y="286.9" width="6.9" height="1.35" fill="#0c0c0c"/>
</g>
</g>
</g>
</svg>
</body></html>
